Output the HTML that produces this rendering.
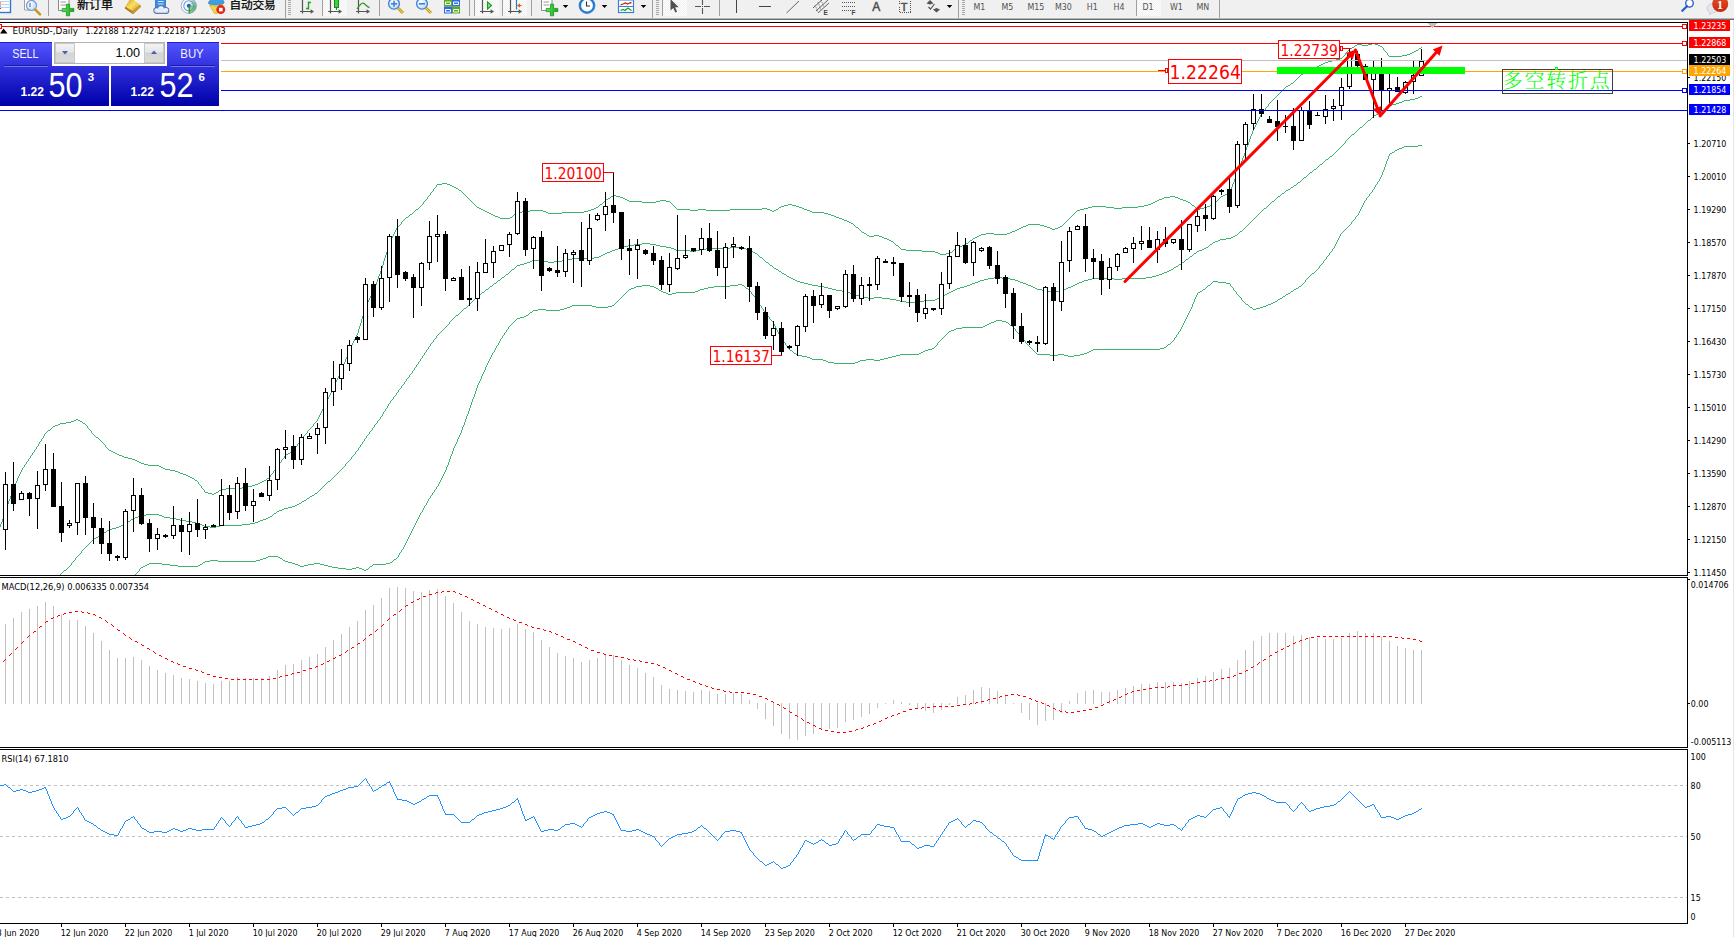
<!DOCTYPE html>
<html lang="zh"><head><meta charset="utf-8"><title>EURUSD-,Daily</title>
<style>
html,body{margin:0;padding:0;background:#fff;overflow:hidden}
body{width:1734px;height:937px;position:relative;font-family:"Liberation Sans","Noto Sans CJK SC",sans-serif}
svg{position:absolute;left:0;top:0;display:block}
text{white-space:pre}
.ax{font-family:"DejaVu Sans Condensed","DejaVu Sans","Liberation Sans",sans-serif;font-stretch:condensed;font-size:8.8px;fill:#000}
.c{shape-rendering:crispEdges}
</style></head><body>
<svg width="1734" height="937" viewBox="0 0 1734 937" font-family="Liberation Sans, sans-serif">
<rect width="1734" height="937" fill="#fff"/>

<g class="c">
<defs><clipPath id="cm"><rect x="0" y="23" width="1687" height="552"/></clipPath><clipPath id="cmacd"><rect x="0" y="578" width="1687" height="170"/></clipPath><clipPath id="crsi"><rect x="0" y="750" width="1687" height="173"/></clipPath></defs>
<g clip-path="url(#cm)">
<path d="M384.5,258v3M8.5,501v3M1245.5,150v3M17.5,478v3M347.5,354v3M13.5,487v3M1242.5,158v3M1249.5,139v3M383.5,261v4M7.5,504v3M1232.5,184v3M358.5,329v4M387.5,248v4M1240.5,164v3M1248.5,142v3M374.5,287v3M-1.5,530v3M381.5,268v3M345.5,359v3M386.5,252v3M361.5,319v4M343.5,364v3M1238.5,169v3M360.5,323v3M389.5,242v3M0.5,524v3M359.5,326v3M388.5,245v3M363.5,313v3M362.5,316v3M10.5,496v3M349.5,349v3M377.5,279v3M1234.5,179v3M1250.5,136v3M376.5,282v3M380.5,271v3M12.5,490v3M1241.5,161v3M333.5,386v3M3.5,516v3M1244.5,153v3M385.5,255v3M341.5,369v3M365.5,306v3M6.5,507v3M364.5,309v4M11.5,493v3M378.5,276v3M2.5,519v3M1237.5,172v3M1252.5,131v3M-0.5,527v3M382.5,265v3M5.5,510v3M1246.5,147v3M4.5,513v3M205,492.5h3M216,492.5h2M399,225.5h1M854,225.5h1M1026,225.5h2M1040,225.5h4M1062,225.5h1M938,253.5h2M946,253.5h4M390,240.5h1M889,240.5h2M970,240.5h2M36,447.5h1M106,447.5h1M295,447.5h1M327,399.5h1M420,206.5h1M476,206.5h1M598,206.5h1M674,206.5h1M781,206.5h3M796,206.5h3M1092,206.5h14M1138,206.5h6M1194,206.5h1M1207,206.5h3M393,234.5h1M866,234.5h1M981,234.5h5M994,234.5h13M427,197.5h1M467,197.5h1M610,197.5h1M620,197.5h3M1164,197.5h6M1175,197.5h3M1220,197.5h1M416,209.5h2M481,209.5h2M591,209.5h3M677,209.5h13M698,209.5h8M730,209.5h32M767,209.5h3M776,209.5h2M804,209.5h3M1080,209.5h4M1197,209.5h3M423,202.5h1M472,202.5h1M603,202.5h1M642,202.5h14M670,202.5h1M1153,202.5h2M1188,202.5h2M1215,202.5h1M195,480.5h2M264,480.5h2M432,191.5h1M461,191.5h1M1229,191.5h1M422,204.5h1M474,204.5h1M600,204.5h2M672,204.5h1M788,204.5h4M1148,204.5h3M1191,204.5h1M1212,204.5h2M427,198.5h1M468,198.5h1M608,198.5h2M623,198.5h2M1162,198.5h2M1178,198.5h2M1219,198.5h1M431,192.5h1M462,192.5h1M1229,192.5h1M1357,44.5h5M1368,44.5h4M1375,44.5h3M410,214.5h2M491,214.5h2M514,214.5h2M828,214.5h3M1073,214.5h1M66,422.5h5M82,422.5h1M315,422.5h1M1347,51.5h1M1385,51.5h1M1414,51.5h2M22,469.5h1M165,469.5h5M275,469.5h1M201,487.5h1M242,487.5h6M409,215.5h1M493,215.5h2M513,215.5h1M831,215.5h3M1072,215.5h1M1266,107.5h1M1345,53.5h1M1387,53.5h1M1410,53.5h2M414,211.5h1M485,211.5h2M522,211.5h8M543,211.5h3M584,211.5h4M772,211.5h2M810,211.5h2M1076,211.5h1M418,208.5h1M479,208.5h2M594,208.5h2M676,208.5h1M762,208.5h5M778,208.5h1M802,208.5h2M1084,208.5h4M1114,208.5h8M1196,208.5h1M1200,208.5h4M412,213.5h1M489,213.5h2M516,213.5h1M548,213.5h14M824,213.5h4M1074,213.5h1M415,210.5h1M483,210.5h2M530,210.5h13M588,210.5h3M690,210.5h8M706,210.5h24M770,210.5h2M774,210.5h2M807,210.5h3M1077,210.5h3M935,252.5h3M950,252.5h2M1261,114.5h1M419,207.5h1M477,207.5h2M596,207.5h2M675,207.5h1M779,207.5h2M799,207.5h3M1088,207.5h4M1106,207.5h8M1122,207.5h16M1195,207.5h1M1204,207.5h3M375,286.5h1M893,242.5h1M968,242.5h1M1343,56.5h1M1389,56.5h13M430,194.5h1M464,194.5h1M1225,194.5h2M424,201.5h1M471,201.5h1M604,201.5h1M629,201.5h13M656,201.5h4M666,201.5h4M1155,201.5h2M1186,201.5h2M1216,201.5h1M326,402.5h1M922,251.5h13M952,251.5h1M338,376.5h1M413,212.5h1M487,212.5h2M517,212.5h5M546,212.5h2M562,212.5h22M812,212.5h12M1075,212.5h1M58,424.5h2M85,424.5h1M313,424.5h1M405,218.5h1M500,218.5h10M839,218.5h3M1069,218.5h1M425,200.5h1M470,200.5h1M605,200.5h1M627,200.5h2M660,200.5h6M1157,200.5h2M1183,200.5h3M1217,200.5h1M36,448.5h1M107,448.5h1M294,448.5h1M55,425.5h3M86,425.5h1M313,425.5h1M32,454.5h1M117,454.5h2M286,454.5h2M436,185.5h1M450,185.5h2M394,233.5h1M864,233.5h2M986,233.5h8M1007,233.5h3M322,409.5h1M434,188.5h1M456,188.5h2M1231,188.5h1M1269,103.5h1M437,184.5h5M447,184.5h3M346,357.5h1M1307,71.5h2M906,250.5h16M953,250.5h1M1336,59.5h4M25,464.5h1M144,464.5h4M278,464.5h1M1260,116.5h1M393,235.5h1M867,235.5h2M874,235.5h5M979,235.5h2M27,461.5h1M137,461.5h2M281,461.5h1M1325,62.5h3M1276,96.5h1M29,458.5h1M128,458.5h4M283,458.5h1M35,449.5h1M108,449.5h1M294,449.5h1M400,224.5h1M853,224.5h1M1028,224.5h12M1063,224.5h1M50,429.5h1M89,429.5h1M309,429.5h1M1256,123.5h1M71,421.5h3M80,421.5h2M316,421.5h1M898,246.5h1M959,246.5h3M398,226.5h1M855,226.5h1M1023,226.5h3M1044,226.5h3M1060,226.5h2M406,217.5h2M498,217.5h2M510,217.5h2M836,217.5h3M1070,217.5h1M1346,52.5h1M1386,52.5h1M1412,52.5h2M900,248.5h1M956,248.5h1M435,187.5h1M454,187.5h2M1231,187.5h1M22,468.5h1M163,468.5h2M276,468.5h1M332,389.5h1M357,333.5h1M344,363.5h1M26,462.5h1M139,462.5h2M280,462.5h1M202,488.5h1M226,488.5h16M1283,89.5h1M397,227.5h1M856,227.5h2M1021,227.5h2M1047,227.5h3M1058,227.5h2M1239,168.5h1M1328,61.5h4M421,205.5h1M475,205.5h1M599,205.5h1M673,205.5h1M784,205.5h4M792,205.5h4M1144,205.5h4M1192,205.5h2M1210,205.5h2M38,445.5h1M105,445.5h1M297,445.5h1M24,465.5h1M148,465.5h11M278,465.5h1M426,199.5h1M469,199.5h1M606,199.5h2M625,199.5h2M1159,199.5h3M1180,199.5h3M1218,199.5h1M1259,118.5h1M24,466.5h1M159,466.5h2M277,466.5h1M428,196.5h1M466,196.5h1M611,196.5h2M616,196.5h4M1170,196.5h5M1221,196.5h2M20,473.5h1M180,473.5h3M272,473.5h1M34,451.5h1M111,451.5h2M291,451.5h2M52,427.5h1M87,427.5h1M311,427.5h1M-3,533.5h1M51,428.5h1M88,428.5h1M310,428.5h1M32,453.5h1M115,453.5h2M288,453.5h2M1255,125.5h1M43,437.5h1M96,437.5h2M303,437.5h1M331,391.5h1M1355,45.5h2M1362,45.5h6M1378,45.5h2M41,440.5h1M100,440.5h1M300,440.5h1M60,423.5h6M83,423.5h2M314,423.5h1M204,491.5h1M218,491.5h1M1298,77.5h1M14,485.5h1M200,485.5h1M252,485.5h3M194,479.5h1M266,479.5h1M74,420.5h2M78,420.5h2M317,420.5h1M45,433.5h1M92,433.5h1M306,433.5h1M894,243.5h1M966,243.5h2M392,237.5h1M882,237.5h2M975,237.5h2M326,401.5h1M28,460.5h1M135,460.5h2M281,460.5h1M401,223.5h1M851,223.5h2M1064,223.5h1M392,236.5h1M869,236.5h5M879,236.5h3M977,236.5h2M18,477.5h1M190,477.5h2M269,477.5h1M339,375.5h1M16,481.5h1M197,481.5h1M262,481.5h2M48,430.5h2M90,430.5h1M308,430.5h1M335,382.5h1M44,435.5h1M94,435.5h1M304,435.5h1M896,245.5h2M962,245.5h2M901,249.5h5M954,249.5h2M1265,109.5h1M1285,87.5h1M23,467.5h1M161,467.5h2M276,467.5h1M1332,60.5h4M391,238.5h1M884,238.5h3M973,238.5h2M1323,63.5h2M31,455.5h1M119,455.5h3M285,455.5h1M334,385.5h1M899,247.5h1M957,247.5h2M442,183.5h5M1233,183.5h1M28,459.5h1M132,459.5h3M282,459.5h1M395,230.5h1M860,230.5h1M1015,230.5h2M38,444.5h1M104,444.5h1M297,444.5h1M354,340.5h1M429,195.5h1M465,195.5h1M613,195.5h3M1223,195.5h2M423,203.5h1M473,203.5h1M602,203.5h1M671,203.5h1M1151,203.5h2M1190,203.5h1M1214,203.5h1M394,232.5h1M862,232.5h2M1010,232.5h2M20,472.5h1M178,472.5h2M273,472.5h1M1345,54.5h1M1387,54.5h1M1407,54.5h3M1291,83.5h2M34,450.5h1M109,450.5h2M293,450.5h1M370,297.5h1M30,457.5h1M124,457.5h4M284,457.5h1M1315,67.5h2M436,186.5h1M452,186.5h2M396,229.5h1M859,229.5h1M1017,229.5h2M1052,229.5h3M402,221.5h1M847,221.5h2M1066,221.5h1M366,304.5h1M395,231.5h1M861,231.5h1M1012,231.5h3M940,254.5h6M37,446.5h1M105,446.5h1M296,446.5h1M1352,47.5h2M1382,47.5h1M1421,47.5h1M328,398.5h1M353,342.5h1M53,426.5h2M87,426.5h1M312,426.5h1M208,493.5h4M214,493.5h2M1235,177.5h1M1317,66.5h2M46,432.5h1M91,432.5h1M307,432.5h1M403,220.5h1M844,220.5h3M1067,220.5h1M401,222.5h1M849,222.5h2M1065,222.5h1M18,476.5h1M188,476.5h2M270,476.5h1M76,419.5h2M317,419.5h1M41,439.5h1M99,439.5h1M301,439.5h1M1251,134.5h1M1,523.5h1M15,484.5h1M199,484.5h1M255,484.5h3M9,500.5h1M26,463.5h1M141,463.5h3M279,463.5h1M1297,78.5h1M327,400.5h1M339,374.5h1M1270,102.5h1M323,407.5h1M44,434.5h1M93,434.5h1M305,434.5h1M40,441.5h1M101,441.5h1M300,441.5h1M1305,72.5h2M1277,95.5h1M338,377.5h1M16,482.5h1M198,482.5h1M260,482.5h2M1274,98.5h1M408,216.5h1M495,216.5h3M512,216.5h1M834,216.5h2M1071,216.5h1M322,410.5h1M334,384.5h1M346,358.5h1M1350,48.5h2M1383,48.5h1M1419,48.5h2M318,417.5h1M204,490.5h1M219,490.5h2M203,489.5h1M221,489.5h5M354,339.5h1M1281,91.5h1M396,228.5h1M858,228.5h1M1019,228.5h2M1050,228.5h2M1055,228.5h3M370,296.5h1M1354,46.5h1M1380,46.5h2M33,452.5h1M113,452.5h2M290,452.5h1M1372,43.5h3M357,334.5h1M390,241.5h1M891,241.5h2M969,241.5h1M353,341.5h1M1349,49.5h1M1383,49.5h1M1418,49.5h1M14,486.5h1M201,486.5h1M248,486.5h4M-3,534.5h1M1255,126.5h1M369,298.5h1M1313,68.5h2M1,522.5h1M9,499.5h1M352,343.5h1M895,244.5h1M964,244.5h2M430,193.5h1M463,193.5h1M1227,193.5h2M1301,74.5h2M1321,64.5h2M433,189.5h1M458,189.5h1M1230,189.5h1M335,383.5h1M1348,50.5h1M1384,50.5h1M1416,50.5h2M1303,73.5h2M1262,112.5h1M1258,119.5h1M19,475.5h1M186,475.5h2M270,475.5h1M19,474.5h1M183,474.5h3M271,474.5h1M42,438.5h1M98,438.5h1M302,438.5h1M330,393.5h1M342,367.5h1M1257,122.5h1M1253,129.5h1M1342,57.5h1M366,305.5h1M329,395.5h1M1344,55.5h1M1388,55.5h1M1402,55.5h5M1235,178.5h1M1295,80.5h1M1251,135.5h1M433,190.5h1M459,190.5h2M1230,190.5h1M192,478.5h2M267,478.5h2M47,431.5h1M91,431.5h1M307,431.5h1M323,408.5h1M348,352.5h1M1282,90.5h1M15,483.5h1M198,483.5h1M258,483.5h2M1247,145.5h1M1233,182.5h1M1286,86.5h2M318,418.5h1M1257,121.5h1M212,494.5h2M30,456.5h1M122,456.5h2M284,456.5h1M379,274.5h1M1288,85.5h2M1254,128.5h1M1311,69.5h2M1296,79.5h1M404,219.5h1M842,219.5h2M1068,219.5h1M369,299.5h1M391,239.5h1M887,239.5h2M972,239.5h1M39,442.5h1M102,442.5h1M299,442.5h1M352,344.5h1M325,404.5h1M43,436.5h1M95,436.5h1M303,436.5h1M337,378.5h1M1243,156.5h1M321,411.5h1M1268,105.5h1M1263,111.5h1M340,373.5h1M373,290.5h1M336,380.5h1M356,335.5h1M1262,113.5h1M1278,94.5h1M372,293.5h1M1258,120.5h1M368,300.5h1M1254,127.5h1M330,394.5h1M355,338.5h1M342,368.5h1M351,345.5h1M21,470.5h1M170,470.5h5M274,470.5h1M371,295.5h1M1253,130.5h1M367,302.5h1M329,396.5h1M1236,175.5h1M325,403.5h1M350,347.5h1M1319,65.5h2M1268,104.5h1M340,372.5h1M1275,97.5h1M324,405.5h1M348,353.5h1M21,471.5h1M175,471.5h3M273,471.5h1M1272,100.5h1M1267,106.5h1M1279,93.5h1M372,292.5h1M1247,146.5h1M1340,58.5h2M1309,70.5h2M355,337.5h1M371,294.5h1M1294,81.5h1M379,275.5h1M39,443.5h1M103,443.5h1M298,443.5h1M375,285.5h1M337,379.5h1M1243,157.5h1M321,412.5h1M1260,115.5h1M373,291.5h1M1271,101.5h1M336,381.5h1M320,414.5h1M344,362.5h1M356,336.5h1M1239,167.5h1M1259,117.5h1M368,301.5h1M319,416.5h1M351,346.5h1M1293,82.5h1M367,303.5h1M1300,75.5h1M1236,176.5h1M350,348.5h1M1273,99.5h1M1265,108.5h1M1280,92.5h1M324,406.5h1M320,413.5h1M1264,110.5h1M1284,88.5h1M1256,124.5h1M319,415.5h1M332,390.5h1M328,397.5h1M1299,76.5h1M1290,84.5h1M331,392.5h1" fill="none" stroke="#3CB371" stroke-width="1"/>
<path d="M419,361.5h1M520,264.5h4M769,264.5h1M1179,264.5h2M500,279.5h1M793,279.5h2M984,279.5h4M1010,279.5h5M1088,279.5h4M1114,279.5h8M1384,109.5h1M501,278.5h1M791,278.5h2M988,278.5h6M1002,278.5h8M1092,278.5h22M1122,278.5h24M332,478.5h1M54,578.5h2M1410,99.5h5M1247,225.5h1M605,253.5h2M755,253.5h2M1194,253.5h2M1313,170.5h1M527,262.5h3M548,262.5h6M766,262.5h2M1182,262.5h2M505,275.5h1M786,275.5h1M1156,275.5h3M524,263.5h3M768,263.5h1M1181,263.5h1M1352,134.5h2M299,503.5h2M31,607.5h1M615,249.5h3M674,249.5h2M700,249.5h6M746,249.5h2M1202,249.5h2M509,272.5h1M781,272.5h1M1164,272.5h3M1399,102.5h3M1244,228.5h1M410,374.5h1M140,515.5h6M159,515.5h3M272,515.5h1M138,516.5h2M162,516.5h2M270,516.5h2M572,258.5h22M762,258.5h1M1188,258.5h1M490,286.5h2M818,286.5h6M964,286.5h3M1031,286.5h2M1071,286.5h2M486,289.5h2M832,289.5h4M955,289.5h2M1037,289.5h5M1063,289.5h3M135,517.5h3M164,517.5h6M268,517.5h2M624,246.5h4M660,246.5h6M1208,246.5h1M339,471.5h1M568,259.5h4M763,259.5h1M1186,259.5h2M618,248.5h2M671,248.5h3M706,248.5h24M743,248.5h3M1204,248.5h2M121,525.5h2M202,525.5h2M220,525.5h22M355,452.5h1M58,575.5h2M494,283.5h2M804,283.5h4M972,283.5h3M1023,283.5h3M1077,283.5h2M1226,238.5h5M1251,221.5h1M119,526.5h2M204,526.5h6M216,526.5h4M398,390.5h1M485,290.5h1M836,290.5h6M953,290.5h2M1042,290.5h6M1060,290.5h3M146,514.5h13M273,514.5h1M1288,189.5h2M514,268.5h1M774,268.5h2M1173,268.5h1M15,630.5h1M484,291.5h1M842,291.5h5M951,291.5h2M1048,291.5h4M1056,291.5h4M30,609.5h1M506,274.5h2M784,274.5h2M1159,274.5h3M86,546.5h1M476,297.5h1M864,297.5h4M874,297.5h8M939,297.5h2M1389,105.5h3M610,251.5h2M690,251.5h6M751,251.5h2M1197,251.5h2M1367,121.5h1M1258,214.5h1M81,552.5h1M516,266.5h1M772,266.5h1M1176,266.5h2M497,281.5h1M797,281.5h3M978,281.5h2M1018,281.5h2M1082,281.5h2M310,496.5h2M612,250.5h3M676,250.5h14M696,250.5h4M748,250.5h3M1199,250.5h3M279,510.5h3M434,339.5h1M512,269.5h2M776,269.5h2M1171,269.5h2M607,252.5h3M753,252.5h2M1196,252.5h1M73,561.5h1M18,625.5h1M93,539.5h1M601,255.5h2M758,255.5h1M1192,255.5h1M1374,115.5h2M1264,208.5h2M492,285.5h1M812,285.5h6M967,285.5h3M1028,285.5h3M1073,285.5h2M-1,652.5h1M599,256.5h2M759,256.5h1M1190,256.5h2M1213,242.5h2M517,265.5h3M770,265.5h2M1178,265.5h1M511,270.5h1M778,270.5h1M1169,270.5h2M14,632.5h1M425,352.5h1M318,491.5h1M530,261.5h2M544,261.5h4M554,261.5h8M765,261.5h1M1184,261.5h1M473,300.5h1M896,300.5h4M924,300.5h11M131,519.5h2M176,519.5h4M263,519.5h3M1323,162.5h1M1294,185.5h2M1272,201.5h2M126,522.5h2M192,522.5h4M255,522.5h3M489,287.5h1M824,287.5h4M960,287.5h4M1033,287.5h2M1068,287.5h3M123,524.5h2M199,524.5h3M242,524.5h8M125,523.5h1M196,523.5h3M250,523.5h5M1334,153.5h1M325,484.5h1M428,347.5h1M482,292.5h2M847,292.5h3M949,292.5h2M1052,292.5h4M532,260.5h12M562,260.5h6M764,260.5h1M1185,260.5h1M322,487.5h1M45,587.5h1M488,288.5h1M828,288.5h4M957,288.5h3M1035,288.5h2M1066,288.5h2M377,422.5h1M424,354.5h1M1280,195.5h1M372,429.5h1M102,533.5h2M1346,140.5h1M502,277.5h2M789,277.5h2M994,277.5h8M1146,277.5h6M99,535.5h2M498,280.5h2M795,280.5h2M980,280.5h4M1015,280.5h3M1084,280.5h4M36,600.5h1M415,367.5h1M1381,111.5h1M1338,149.5h1M510,271.5h1M779,271.5h2M1167,271.5h2M52,580.5h1M1310,172.5h2M467,306.5h1M508,273.5h1M782,273.5h2M1162,273.5h2M620,247.5h4M666,247.5h5M730,247.5h13M1206,247.5h2M29,610.5h1M44,589.5h1M408,377.5h1M356,451.5h1M493,284.5h1M808,284.5h4M970,284.5h2M1026,284.5h2M1075,284.5h2M1360,127.5h2M351,458.5h1M60,574.5h1M1382,110.5h2M474,299.5h1M890,299.5h6M935,299.5h2M331,479.5h1M1220,239.5h6M1318,166.5h1M20,623.5h1M309,497.5h1M471,302.5h1M906,302.5h14M1402,101.5h2M343,467.5h1M1243,229.5h1M67,568.5h1M359,447.5h1M109,529.5h3M504,276.5h1M787,276.5h2M1152,276.5h4M603,254.5h2M757,254.5h1M1193,254.5h1M1386,107.5h2M1415,98.5h3M23,618.5h1M128,521.5h2M186,521.5h6M258,521.5h2M387,406.5h1M402,385.5h1M1316,168.5h1M1250,222.5h1M307,498.5h2M277,511.5h2M1266,207.5h1M14,631.5h1M85,547.5h1M441,331.5h1M475,298.5h1M868,298.5h6M882,298.5h8M937,298.5h2M130,520.5h1M180,520.5h6M260,520.5h3M390,401.5h1M7,641.5h1M1296,184.5h1M386,408.5h1M433,340.5h1M453,318.5h1M448,324.5h1M382,415.5h1M-2,654.5h1M445,327.5h1M377,421.5h1M424,353.5h1M460,312.5h1M41,593.5h1M133,518.5h2M170,518.5h6M266,518.5h2M420,360.5h1M1277,197.5h1M314,494.5h1M38,596.5h1M472,301.5h1M900,301.5h6M920,301.5h4M330,480.5h1M34,603.5h1M594,257.5h5M760,257.5h2M1189,257.5h1M413,370.5h1M44,588.5h1M361,444.5h1M297,504.5h2M1345,142.5h1M423,355.5h1M1235,235.5h2M1278,196.5h2M337,473.5h1M1379,112.5h2M1309,173.5h1M116,527.5h3M210,527.5h6M364,439.5h1M466,307.5h1M1286,190.5h2M344,466.5h1M28,611.5h1M392,399.5h1M360,446.5h1M407,378.5h1M84,548.5h1M355,453.5h1M288,507.5h4M1365,123.5h1M1256,216.5h1M79,554.5h1M1388,106.5h1M496,282.5h1M800,282.5h4M975,282.5h3M1020,282.5h3M1079,282.5h3M1317,167.5h1M19,624.5h1M398,391.5h1M71,563.5h1M91,541.5h1M634,244.5h8M650,244.5h6M1210,244.5h2M1215,241.5h3M1263,209.5h1M66,569.5h1M642,243.5h8M1212,243.5h1M12,634.5h1M1324,161.5h1M1270,203.5h1M3,647.5h1M1293,186.5h1M18,626.5h1M382,414.5h1M429,346.5h1M1332,155.5h1M46,586.5h1M70,565.5h1M628,245.5h6M656,245.5h4M1209,245.5h1M1371,118.5h1M422,356.5h1M1301,180.5h1M385,409.5h1M452,319.5h1M1339,148.5h1M418,363.5h1M34,602.5h1M515,267.5h1M773,267.5h1M1174,267.5h2M366,437.5h1M381,416.5h1M428,348.5h1M50,582.5h1M-3,655.5h1M1351,135.5h1M1237,234.5h1M1276,198.5h1M1233,236.5h2M369,432.5h1M478,295.5h2M856,295.5h4M943,295.5h2M328,481.5h2M33,604.5h1M412,371.5h1M1349,137.5h1M360,445.5h1M1284,192.5h1M107,530.5h2M24,617.5h1M336,474.5h1M403,384.5h1M480,294.5h1M852,294.5h4M945,294.5h2M477,296.5h1M860,296.5h4M941,296.5h2M56,577.5h1M1248,224.5h1M1314,169.5h2M304,500.5h2M348,461.5h1M17,627.5h1M396,394.5h1M72,562.5h1M391,400.5h1M63,571.5h1M481,293.5h1M850,293.5h2M947,293.5h2M83,549.5h1M439,333.5h1M1325,160.5h1M8,640.5h1M1364,124.5h1M1255,217.5h1M78,555.5h1M387,407.5h1M75,558.5h1M451,320.5h1M1290,188.5h1M90,542.5h1M446,326.5h1M1262,210.5h1M390,402.5h1M315,493.5h2M418,362.5h1M433,341.5h1M1269,204.5h1M98,536.5h1M2,648.5h1M366,436.5h1M1330,156.5h2M51,581.5h1M295,505.5h2M1392,104.5h4M374,425.5h1M1300,181.5h1M456,315.5h2M38,597.5h1M417,364.5h1M365,438.5h1M1335,152.5h1M326,483.5h1M49,583.5h1M112,528.5h4M1307,175.5h1M1350,136.5h1M342,468.5h1M104,532.5h2M284,508.5h4M1342,145.5h1M1357,130.5h1M401,387.5h1M416,366.5h1M396,393.5h1M306,499.5h1M364,440.5h1M13,633.5h1M28,612.5h1M1282,193.5h2M106,531.5h1M64,570.5h2M352,456.5h1M71,564.5h1M16,628.5h1M395,395.5h1M1372,117.5h1M12,635.5h1M82,550.5h1M438,334.5h1M1418,97.5h2M1320,164.5h2M312,495.5h2M450,321.5h1M1404,100.5h6M89,543.5h1M0,651.5h1M426,350.5h1M323,486.5h1M1328,158.5h1M442,330.5h1M422,357.5h1M1344,143.5h1M370,431.5h1M1274,200.5h1M385,410.5h1M1297,183.5h1M96,537.5h2M1378,113.5h1M449,323.5h1M464,308.5h2M327,482.5h1M1285,191.5h1M1396,103.5h3M1308,174.5h1M406,379.5h1M334,476.5h1M37,598.5h1M354,454.5h1M57,576.5h1M401,386.5h1M369,433.5h1M416,365.5h1M1249,223.5h1M1358,129.5h1M349,460.5h1M276,512.5h1M412,372.5h1M346,463.5h1M341,469.5h1M1240,231.5h2M1362,126.5h1M1253,219.5h1M21,621.5h1M400,388.5h1M1291,187.5h2M274,513.5h2M88,544.5h1M1260,212.5h1M388,404.5h1M75,559.5h1M384,411.5h1M380,418.5h1M1,650.5h1M427,349.5h1M11,636.5h1M1329,157.5h1M375,424.5h1M1420,96.5h2M458,314.5h1M292,506.5h3M1231,237.5h2M39,595.5h1M1275,199.5h1M449,322.5h1M1336,151.5h1M1218,240.5h2M383,413.5h1M430,345.5h1M32,605.5h1M1348,138.5h1M42,591.5h1M374,426.5h1M319,490.5h1M421,358.5h1M1343,144.5h1M335,475.5h1M1340,147.5h1M414,368.5h1M362,442.5h1M1238,233.5h1M358,449.5h1M405,381.5h1M62,572.5h1M1385,108.5h1M333,477.5h1M353,455.5h1M1363,125.5h1M1254,218.5h1M77,556.5h1M22,620.5h1M1245,227.5h1M1354,133.5h1M345,464.5h1M393,397.5h1M340,470.5h1M1370,119.5h1M25,616.5h1M1322,163.5h1M404,383.5h1M1252,220.5h1M6,643.5h1M432,342.5h1M1268,205.5h1M16,629.5h1M380,417.5h1M1,649.5h1M87,545.5h1M443,329.5h1M321,488.5h1M1368,120.5h2M1259,213.5h1M68,567.5h1M1326,159.5h2M9,639.5h1M1298,182.5h2M455,316.5h1M4,645.5h1M94,538.5h2M282,509.5h2M383,412.5h1M430,344.5h1M1337,150.5h1M1376,114.5h2M447,325.5h1M379,419.5h1M426,351.5h1M48,584.5h1M1306,176.5h1M43,590.5h1M367,435.5h1M1356,131.5h1M347,462.5h1M470,303.5h1M1242,230.5h1M1281,194.5h1M1347,139.5h1M358,448.5h1M1304,177.5h2M461,311.5h1M27,613.5h1M406,380.5h1M22,619.5h1M101,534.5h1M468,305.5h1M1246,226.5h1M1312,171.5h1M1261,211.5h1M409,376.5h1M30,608.5h1M394,396.5h1M25,615.5h1M389,403.5h1M357,450.5h1M404,382.5h1M61,573.5h1M81,551.5h1M437,335.5h1M1319,165.5h1M6,642.5h1M76,557.5h1M397,392.5h1M444,328.5h1M9,638.5h1M388,405.5h1M80,553.5h1M436,337.5h1M5,644.5h1M431,343.5h1M1267,206.5h1M1373,116.5h1M463,309.5h1M320,489.5h1M1303,178.5h1M372,428.5h1M317,492.5h1M454,317.5h1M1341,146.5h1M36,599.5h1M1271,202.5h1M363,441.5h1M378,420.5h1M301,502.5h1M32,606.5h1M1333,154.5h1M324,485.5h1M47,585.5h1M411,373.5h1M1239,232.5h1M371,430.5h1M351,457.5h1M20,622.5h1M414,369.5h1M1355,132.5h1M35,601.5h1M399,389.5h1M302,501.5h2M469,304.5h1M362,443.5h1M409,375.5h1M338,472.5h1M26,614.5h1M1359,128.5h1M350,459.5h1M74,560.5h1M345,465.5h1M393,398.5h1M69,566.5h1M1366,122.5h1M1257,215.5h1M10,637.5h1M436,336.5h1M92,540.5h1M-2,653.5h1M440,332.5h1M41,592.5h1M373,427.5h1M420,359.5h1M435,338.5h1M4,646.5h1M368,434.5h1M53,579.5h1M462,310.5h1M376,423.5h1M1345,141.5h1M1302,179.5h1M459,313.5h1M40,594.5h1" fill="none" stroke="#3CB371" stroke-width="1"/>
<path d="M475.5,391v3M474.5,394v3M449.5,459v3M457.5,439v3M82.5,677v3M446.5,467v3M466.5,416v3M465.5,419v3M86.5,666v3M481.5,376v3M470.5,405v3M1388.5,156v3M477.5,385v3M80.5,683v3M464.5,422v3M453.5,448v3M77.5,691v3M85.5,669v3M476.5,388v3M101.5,625v3M88.5,659v3M1382.5,172v3M87.5,662v4M1192.5,304v3M91.5,649v4M78.5,688v3M452.5,451v3M469.5,408v3M1384.5,167v3M97.5,634v3M468.5,411v3M472.5,399v3M1386.5,161v3M462.5,427v3M90.5,653v3M485.5,367v3M93.5,643v3M448.5,462v3M92.5,646v3M471.5,402v3M73.5,700v3M81.5,680v3M1194.5,299v3M89.5,656v3M84.5,672v3M1385.5,164v3M461.5,430v3M450.5,456v3M528,314.5h1M766,314.5h1M1188,314.5h1M491,355.5h1M797,355.5h5M896,355.5h4M1050,355.5h8M1064,355.5h4M1074,355.5h6M147,564.5h2M162,564.5h8M200,564.5h2M295,564.5h3M308,564.5h6M320,564.5h4M373,564.5h13M203,562.5h2M288,562.5h4M390,562.5h2M495,349.5h1M789,349.5h1M928,349.5h4M1032,349.5h1M1093,349.5h67M493,352.5h1M793,352.5h1M921,352.5h2M1035,352.5h1M1087,352.5h2M149,563.5h13M202,563.5h1M292,563.5h3M314,563.5h6M386,563.5h4M624,294.5h1M668,294.5h4M752,294.5h1M1197,294.5h1M1237,294.5h1M1286,294.5h2M1211,283.5h1M1226,283.5h4M1303,283.5h1M467,415.5h1M514,321.5h1M772,321.5h1M994,321.5h2M1002,321.5h4M1184,321.5h1M623,295.5h1M753,295.5h1M1196,295.5h1M1238,295.5h1M1285,295.5h1M631,288.5h3M656,288.5h2M704,288.5h4M746,288.5h2M1205,288.5h1M1233,288.5h1M1296,288.5h2M508,327.5h1M775,327.5h1M962,327.5h21M1013,327.5h1M1181,327.5h1M414,525.5h1M143,566.5h2M178,566.5h20M300,566.5h4M328,566.5h4M370,566.5h2M1358,213.5h1M266,557.5h2M278,557.5h2M397,557.5h1M1353,220.5h1M492,354.5h1M796,354.5h1M900,354.5h19M1037,354.5h13M1058,354.5h6M1080,354.5h4M513,322.5h1M773,322.5h1M991,322.5h3M1006,322.5h2M1184,322.5h1M490,357.5h1M807,357.5h3M888,357.5h4M572,305.5h20M612,305.5h2M760,305.5h1M1248,305.5h1M1266,305.5h2M483,372.5h1M491,356.5h1M802,356.5h5M892,356.5h4M1068,356.5h6M38,745.5h2M490,358.5h1M810,358.5h2M884,358.5h4M205,561.5h5M218,561.5h38M285,561.5h3M392,561.5h1M629,289.5h2M658,289.5h1M700,289.5h4M748,289.5h1M1203,289.5h2M1233,289.5h1M1294,289.5h2M503,335.5h1M779,335.5h1M945,335.5h1M1019,335.5h1M1176,335.5h1M636,286.5h6M650,286.5h4M714,286.5h16M744,286.5h1M1207,286.5h1M1231,286.5h1M1299,286.5h2M1345,229.5h1M433,492.5h1M1389,155.5h1M489,359.5h1M812,359.5h11M866,359.5h8M880,359.5h4M103,622.5h1M538,309.5h8M560,309.5h4M763,309.5h1M1190,309.5h1M1253,309.5h3M15,774.5h1M499,341.5h1M783,341.5h1M939,341.5h1M1025,341.5h1M1172,341.5h1M618,300.5h1M757,300.5h1M1242,300.5h1M1277,300.5h1M46,739.5h1M617,301.5h1M758,301.5h1M1243,301.5h1M1275,301.5h2M627,291.5h1M661,291.5h2M695,291.5h3M750,291.5h1M1200,291.5h2M1235,291.5h1M1291,291.5h2M473,397.5h1M642,285.5h8M730,285.5h8M742,285.5h2M1208,285.5h2M1230,285.5h1M1301,285.5h1M62,719.5h1M634,287.5h2M654,287.5h2M708,287.5h6M745,287.5h1M1206,287.5h1M1232,287.5h1M1298,287.5h1M533,310.5h5M546,310.5h14M763,310.5h1M1190,310.5h1M57,725.5h1M22,767.5h1M139,569.5h1M346,569.5h6M362,569.5h2M366,569.5h2M504,334.5h1M779,334.5h1M946,334.5h1M1019,334.5h1M1177,334.5h1M1418,145.5h4M570,306.5h2M592,306.5h4M608,306.5h4M761,306.5h1M1249,306.5h1M1263,306.5h3M492,353.5h1M794,353.5h2M919,353.5h2M1036,353.5h1M1084,353.5h3M498,343.5h1M785,343.5h1M937,343.5h1M1026,343.5h1M1170,343.5h1M68,711.5h1M102,624.5h1M444,473.5h1M621,297.5h1M755,297.5h1M1195,297.5h1M1240,297.5h1M1282,297.5h1M1305,280.5h1M1372,190.5h1M625,293.5h1M666,293.5h2M672,293.5h4M751,293.5h1M1197,293.5h1M1236,293.5h1M1288,293.5h2M1320,265.5h1M628,290.5h1M659,290.5h2M698,290.5h2M749,290.5h1M1202,290.5h1M1234,290.5h1M1293,290.5h1M1335,244.5h1M145,565.5h2M170,565.5h8M198,565.5h2M298,565.5h2M304,565.5h4M324,565.5h4M372,565.5h1M620,298.5h1M755,298.5h1M1195,298.5h1M1241,298.5h1M1280,298.5h2M25,763.5h1M532,311.5h1M764,311.5h1M1189,311.5h1M210,560.5h8M256,560.5h4M283,560.5h2M393,560.5h1M1331,251.5h1M407,540.5h1M56,727.5h1M137,572.5h1M1312,273.5h2M1387,160.5h1M1212,282.5h1M1218,282.5h8M1304,282.5h1M622,296.5h1M754,296.5h1M1196,296.5h1M1239,296.5h1M1283,296.5h2M403,547.5h1M132,578.5h1M488,362.5h1M828,362.5h6M855,362.5h3M508,328.5h1M776,328.5h1M956,328.5h6M1014,328.5h1M1181,328.5h1M399,554.5h1M128,585.5h1M1371,192.5h1M515,320.5h1M771,320.5h1M996,320.5h6M1185,320.5h1M1319,267.5h1M439,483.5h1M5,779.5h2M506,330.5h1M777,330.5h1M951,330.5h3M1015,330.5h1M1180,330.5h1M512,323.5h1M773,323.5h1M989,323.5h2M1008,323.5h1M1183,323.5h1M76,695.5h1M529,313.5h1M765,313.5h1M1188,313.5h1M460,434.5h1M626,292.5h1M663,292.5h3M676,292.5h19M751,292.5h1M1198,292.5h2M1236,292.5h1M1290,292.5h1M140,568.5h1M338,568.5h8M352,568.5h4M359,568.5h3M368,568.5h1M467,414.5h1M116,601.5h1M511,324.5h1M774,324.5h1M987,324.5h2M1009,324.5h1M1183,324.5h1M402,549.5h1M487,364.5h1M495,348.5h1M788,348.5h1M932,348.5h2M1031,348.5h1M1160,348.5h4M510,325.5h1M774,325.5h1M985,325.5h2M1010,325.5h2M1182,325.5h1M415,524.5h1M500,339.5h1M782,339.5h1M941,339.5h1M1023,339.5h1M1174,339.5h1M1402,147.5h2M268,556.5h10M398,556.5h1M438,485.5h1M95,640.5h1M411,531.5h1M496,346.5h1M787,346.5h1M935,346.5h1M1029,346.5h1M1166,346.5h1M567,307.5h3M596,307.5h12M761,307.5h1M1191,307.5h1M1250,307.5h2M1260,307.5h3M1361,208.5h1M506,331.5h1M777,331.5h1M949,331.5h2M1016,331.5h1M1179,331.5h1M1346,228.5h1M71,705.5h1M1357,215.5h1M489,360.5h1M823,360.5h3M860,360.5h6M874,360.5h6M487,363.5h1M834,363.5h21M12,776.5h2M79,686.5h1M614,304.5h1M759,304.5h1M1246,304.5h2M1268,304.5h3M1381,176.5h1M94,642.5h1M410,533.5h1M106,616.5h1M502,337.5h1M780,337.5h1M943,337.5h1M1021,337.5h1M1175,337.5h1M1377,183.5h1M102,623.5h1M14,775.5h1M497,345.5h1M786,345.5h1M936,345.5h1M1028,345.5h1M1167,345.5h1M428,500.5h1M50,734.5h1M494,350.5h1M790,350.5h2M925,350.5h3M1033,350.5h1M1091,350.5h2M66,714.5h1M45,740.5h1M424,507.5h1M738,284.5h4M1210,284.5h1M1230,284.5h1M1302,284.5h1M26,762.5h1M1395,150.5h2M420,514.5h1M1380,178.5h1M1392,152.5h2M501,338.5h1M781,338.5h1M942,338.5h1M1022,338.5h1M1174,338.5h1M1324,260.5h1M504,333.5h1M778,333.5h1M947,333.5h1M1018,333.5h1M1178,333.5h1M498,344.5h1M785,344.5h1M937,344.5h1M1027,344.5h1M1168,344.5h2M98,633.5h1M76,694.5h1M423,509.5h1M1,781.5h2M460,433.5h1M121,594.5h1M1364,201.5h1M419,516.5h1M505,332.5h1M778,332.5h1M948,332.5h1M1017,332.5h1M1178,332.5h1M415,523.5h1M1323,262.5h1M484,371.5h1M516,319.5h1M770,319.5h1M1185,319.5h1M75,697.5h1M109,610.5h1M616,302.5h1M758,302.5h1M1193,302.5h1M1244,302.5h1M1273,302.5h2M139,570.5h1M364,570.5h2M260,559.5h3M282,559.5h1M394,559.5h2M141,567.5h2M332,567.5h6M356,567.5h3M369,567.5h1M459,435.5h1M105,617.5h1M120,596.5h1M564,308.5h3M762,308.5h1M1191,308.5h1M1252,308.5h1M1256,308.5h4M72,704.5h1M115,602.5h1M32,753.5h1M414,526.5h1M1358,214.5h1M1339,237.5h1M517,318.5h3M769,318.5h1M1186,318.5h1M507,329.5h1M776,329.5h1M954,329.5h2M1015,329.5h1M1180,329.5h1M615,303.5h1M759,303.5h1M1193,303.5h1M1245,303.5h1M1271,303.5h2M483,373.5h1M108,612.5h1M502,336.5h1M780,336.5h1M944,336.5h1M1020,336.5h1M1176,336.5h1M499,342.5h1M784,342.5h1M938,342.5h1M1025,342.5h1M1171,342.5h1M104,619.5h1M1404,146.5h14M1306,279.5h1M430,496.5h1M1342,232.5h1M509,326.5h1M775,326.5h1M983,326.5h2M1012,326.5h1M1182,326.5h1M10,777.5h2M31,755.5h1M51,733.5h1M426,503.5h1M1338,239.5h1M42,742.5h2M62,720.5h1M409,535.5h1M1380,177.5h1M422,510.5h1M1334,246.5h1M138,571.5h1M22,768.5h1M1376,184.5h1M54,729.5h1M418,517.5h1M19,771.5h1M1310,275.5h1M445,470.5h1M526,315.5h2M767,315.5h1M1187,315.5h1M49,735.5h1M1213,281.5h5M1305,281.5h1M1325,259.5h1M1372,191.5h1M30,757.5h1M98,632.5h1M25,764.5h1M1369,194.5h1M122,593.5h1M1328,255.5h1M263,558.5h3M280,558.5h2M396,558.5h1M109,609.5h1M1399,148.5h3M125,589.5h1M72,703.5h1M1344,230.5h1M432,493.5h1M1339,236.5h1M500,340.5h1M782,340.5h1M940,340.5h1M1024,340.5h1M1173,340.5h1M113,605.5h1M488,361.5h1M826,361.5h2M858,361.5h2M108,611.5h1M411,532.5h1M1383,170.5h1M496,347.5h1M788,347.5h1M934,347.5h1M1030,347.5h1M1164,347.5h2M1351,223.5h1M71,706.5h1M36,748.5h1M455,444.5h1M51,732.5h1M67,713.5h1M79,687.5h1M1338,238.5h1M27,761.5h1M463,425.5h1M1349,225.5h1M410,534.5h1M1330,252.5h1M406,541.5h1M479,382.5h1M70,708.5h1M55,728.5h1M1374,187.5h1M619,299.5h1M756,299.5h1M1241,299.5h1M1278,299.5h2M30,756.5h1M454,446.5h1M3,780.5h2M61,721.5h1M1318,268.5h1M1365,200.5h1M494,351.5h1M792,351.5h1M923,351.5h2M1034,351.5h1M1089,351.5h2M405,544.5h1M18,772.5h1M1309,276.5h1M1329,254.5h1M478,384.5h1M524,316.5h2M768,316.5h1M1187,316.5h1M401,551.5h1M130,582.5h1M486,365.5h1M441,479.5h1M110,608.5h1M1316,270.5h1M126,588.5h1M121,595.5h1M437,486.5h1M1364,202.5h1M520,317.5h4M769,317.5h1M1186,317.5h1M404,546.5h1M1360,209.5h1M113,604.5h1M1356,216.5h1M1351,222.5h1M440,481.5h1M459,436.5h1M105,618.5h1M36,747.5h1M436,488.5h1M1343,231.5h1M32,754.5h1M1359,211.5h1M456,443.5h1M427,501.5h1M1355,218.5h1M1350,224.5h1M1390,153.5h2M479,381.5h1M20,770.5h1M1311,274.5h1M447,465.5h1M70,707.5h1M104,620.5h1M35,749.5h1M430,497.5h1M1370,193.5h1M426,504.5h1M409,536.5h1M-1,782.5h2M422,511.5h1M1334,247.5h1M405,543.5h1M1329,253.5h1M418,518.5h1M478,383.5h1M135,574.5h1M445,471.5h1M401,550.5h1M130,581.5h1M441,478.5h1M1322,263.5h1M1369,195.5h1M126,587.5h1M1317,269.5h1M1397,149.5h2M74,698.5h1M404,545.5h1M417,520.5h1M400,552.5h1M114,603.5h1M413,527.5h1M530,312.5h2M764,312.5h1M1189,312.5h1M440,480.5h1M436,487.5h1M482,374.5h1M432,494.5h1M34,750.5h1M456,442.5h1M416,522.5h1M7,778.5h3M1355,217.5h1M412,529.5h1M1383,171.5h1M41,743.5h1M435,489.5h1M455,445.5h1M1375,185.5h1M48,736.5h1M463,426.5h1M1354,219.5h1M59,723.5h1M24,765.5h1M1378,181.5h1M406,542.5h1M1307,278.5h1M1327,256.5h1M1374,188.5h1M454,447.5h1M131,580.5h1M100,629.5h1M47,738.5h1M451,455.5h1M421,512.5h1M1333,248.5h1M134,576.5h1M417,519.5h1M486,366.5h1M99,631.5h1M1321,264.5h1M1368,196.5h1M1360,210.5h1M458,438.5h1M416,521.5h1M118,598.5h1M1341,233.5h1M1348,226.5h1M431,495.5h1M1359,212.5h1M69,709.5h1M1340,235.5h1M427,502.5h1M29,758.5h1M65,716.5h1M1336,242.5h1M40,744.5h1M60,722.5h1M1332,249.5h1M-3,783.5h2M408,538.5h1M447,466.5h1M136,573.5h1M1379,180.5h1M16,773.5h2M52,731.5h1M100,628.5h1M1308,277.5h1M47,737.5h1M63,718.5h1M28,760.5h1M129,583.5h1M451,454.5h1M23,766.5h1M1315,271.5h1M1363,203.5h1M135,575.5h1M1326,257.5h1M1373,189.5h1M99,630.5h1M1366,199.5h1M96,638.5h1M74,699.5h1M458,437.5h1M1362,206.5h1M83,676.5h1M413,528.5h1M111,607.5h1M482,375.5h1M107,614.5h1M1389,154.5h1M34,751.5h1M1340,234.5h1M103,621.5h1M429,498.5h1M65,715.5h1M412,530.5h1M425,505.5h1M1352,221.5h1M1337,241.5h1M408,537.5h1M1347,227.5h1M1379,179.5h1M37,746.5h1M1375,186.5h1M444,472.5h1M28,759.5h1M64,717.5h1M407,539.5h1M480,380.5h1M21,769.5h1M1387,159.5h1M443,475.5h1M399,553.5h1M128,584.5h1M1319,266.5h1M439,482.5h1M96,637.5h1M1366,198.5h1M1314,272.5h1M124,591.5h1M1362,205.5h1M83,675.5h1M119,597.5h1M442,477.5h1M398,555.5h1M127,586.5h1M438,484.5h1M95,639.5h1M107,613.5h1M434,491.5h1M1361,207.5h1M118,599.5h1M1337,240.5h1M1381,175.5h1M94,641.5h1M106,615.5h1M58,724.5h1M33,752.5h1M53,730.5h1M1377,182.5h1M69,710.5h1M428,499.5h1M1336,243.5h1M424,506.5h1M473,398.5h1M480,379.5h1M1332,250.5h1M420,513.5h1M57,726.5h1M443,474.5h1M133,577.5h1M68,712.5h1M44,741.5h1M1335,245.5h1M1394,151.5h1M124,590.5h1M1367,197.5h1M423,508.5h1M1363,204.5h1M419,515.5h1M1326,258.5h1M117,600.5h1M403,548.5h1M442,476.5h1M132,579.5h1M1323,261.5h1M112,606.5h1M484,370.5h1M75,696.5h1M123,592.5h1M434,490.5h1" fill="none" stroke="#3CB371" stroke-width="1"/>
<rect x="5" y="472" width="1" height="78" fill="#000"/>
<rect x="3.5" y="484.5" width="4" height="45" fill="#fff" stroke="#000" stroke-width="1"/>
<rect x="13" y="462" width="1" height="49" fill="#000"/>
<rect x="11" y="484" width="5" height="20" fill="#000"/>
<rect x="21" y="491" width="1" height="9" fill="#000"/>
<rect x="19.5" y="493.5" width="4" height="6" fill="#fff" stroke="#000" stroke-width="1"/>
<rect x="29" y="492" width="1" height="24" fill="#000"/>
<rect x="27" y="493" width="5" height="6" fill="#000"/>
<rect x="37" y="471" width="1" height="58" fill="#000"/>
<rect x="35.5" y="485.5" width="4" height="13" fill="#fff" stroke="#000" stroke-width="1"/>
<rect x="45" y="444" width="1" height="47" fill="#000"/>
<rect x="43.5" y="469.5" width="4" height="15" fill="#fff" stroke="#000" stroke-width="1"/>
<rect x="53" y="453" width="1" height="54" fill="#000"/>
<rect x="51" y="469" width="5" height="38" fill="#000"/>
<rect x="61" y="482" width="1" height="60" fill="#000"/>
<rect x="59" y="506" width="5" height="27" fill="#000"/>
<rect x="69" y="520" width="1" height="8" fill="#000"/>
<rect x="67.5" y="523.5" width="4" height="2" fill="#fff" stroke="#000" stroke-width="1"/>
<rect x="77" y="483" width="1" height="52" fill="#000"/>
<rect x="75.5" y="483.5" width="4" height="39" fill="#fff" stroke="#000" stroke-width="1"/>
<rect x="85" y="476" width="1" height="59" fill="#000"/>
<rect x="83" y="483" width="5" height="35" fill="#000"/>
<rect x="93" y="503" width="1" height="41" fill="#000"/>
<rect x="91" y="517" width="5" height="11" fill="#000"/>
<rect x="101" y="518" width="1" height="36" fill="#000"/>
<rect x="99" y="528" width="5" height="16" fill="#000"/>
<rect x="109" y="521" width="1" height="40" fill="#000"/>
<rect x="107" y="543" width="5" height="11" fill="#000"/>
<rect x="117" y="555" width="1" height="6" fill="#000"/>
<rect x="115" y="556" width="5" height="2" fill="#000"/>
<rect x="125" y="509" width="1" height="51" fill="#000"/>
<rect x="123.5" y="511.5" width="4" height="46" fill="#fff" stroke="#000" stroke-width="1"/>
<rect x="133" y="478" width="1" height="54" fill="#000"/>
<rect x="131.5" y="495.5" width="4" height="15" fill="#fff" stroke="#000" stroke-width="1"/>
<rect x="141" y="488" width="1" height="37" fill="#000"/>
<rect x="139" y="495" width="5" height="29" fill="#000"/>
<rect x="149" y="519" width="1" height="33" fill="#000"/>
<rect x="147" y="523" width="5" height="16" fill="#000"/>
<rect x="157" y="528" width="1" height="22" fill="#000"/>
<rect x="155.5" y="534.5" width="4" height="4" fill="#fff" stroke="#000" stroke-width="1"/>
<rect x="165" y="534" width="1" height="4" fill="#000"/>
<rect x="163" y="535" width="5" height="2" fill="#000"/>
<rect x="173" y="506" width="1" height="33" fill="#000"/>
<rect x="171.5" y="525.5" width="4" height="10" fill="#fff" stroke="#000" stroke-width="1"/>
<rect x="181" y="518" width="1" height="34" fill="#000"/>
<rect x="179" y="525" width="5" height="7" fill="#000"/>
<rect x="189" y="512" width="1" height="43" fill="#000"/>
<rect x="187.5" y="524.5" width="4" height="7" fill="#fff" stroke="#000" stroke-width="1"/>
<rect x="197" y="499" width="1" height="38" fill="#000"/>
<rect x="195" y="523" width="5" height="7" fill="#000"/>
<rect x="205" y="524" width="1" height="15" fill="#000"/>
<rect x="203.5" y="527.5" width="4" height="2" fill="#fff" stroke="#000" stroke-width="1"/>
<rect x="213" y="524" width="1" height="3" fill="#000"/>
<rect x="211" y="525" width="5" height="2" fill="#000"/>
<rect x="221" y="479" width="1" height="47" fill="#000"/>
<rect x="219.5" y="495.5" width="4" height="30" fill="#fff" stroke="#000" stroke-width="1"/>
<rect x="229" y="485" width="1" height="35" fill="#000"/>
<rect x="227" y="495" width="5" height="18" fill="#000"/>
<rect x="237" y="477" width="1" height="42" fill="#000"/>
<rect x="235.5" y="483.5" width="4" height="28" fill="#fff" stroke="#000" stroke-width="1"/>
<rect x="245" y="468" width="1" height="43" fill="#000"/>
<rect x="243" y="483" width="5" height="23" fill="#000"/>
<rect x="253" y="489" width="1" height="33" fill="#000"/>
<rect x="251.5" y="501.5" width="4" height="4" fill="#fff" stroke="#000" stroke-width="1"/>
<rect x="261" y="492" width="1" height="5" fill="#000"/>
<rect x="259" y="493" width="5" height="4" fill="#000"/>
<rect x="269" y="466" width="1" height="35" fill="#000"/>
<rect x="267.5" y="480.5" width="4" height="15" fill="#fff" stroke="#000" stroke-width="1"/>
<rect x="277" y="448" width="1" height="42" fill="#000"/>
<rect x="275.5" y="449.5" width="4" height="30" fill="#fff" stroke="#000" stroke-width="1"/>
<rect x="285" y="430" width="1" height="29" fill="#000"/>
<rect x="283.5" y="447.5" width="4" height="2" fill="#fff" stroke="#000" stroke-width="1"/>
<rect x="293" y="435" width="1" height="34" fill="#000"/>
<rect x="291" y="446" width="5" height="14" fill="#000"/>
<rect x="301" y="434" width="1" height="31" fill="#000"/>
<rect x="299.5" y="437.5" width="4" height="22" fill="#fff" stroke="#000" stroke-width="1"/>
<rect x="309" y="433" width="1" height="6" fill="#000"/>
<rect x="307.5" y="436.5" width="4" height="2" fill="#fff" stroke="#000" stroke-width="1"/>
<rect x="317" y="423" width="1" height="31" fill="#000"/>
<rect x="315.5" y="428.5" width="4" height="6" fill="#fff" stroke="#000" stroke-width="1"/>
<rect x="325" y="388" width="1" height="56" fill="#000"/>
<rect x="323.5" y="392.5" width="4" height="35" fill="#fff" stroke="#000" stroke-width="1"/>
<rect x="333" y="361" width="1" height="45" fill="#000"/>
<rect x="331.5" y="378.5" width="4" height="13" fill="#fff" stroke="#000" stroke-width="1"/>
<rect x="341" y="349" width="1" height="41" fill="#000"/>
<rect x="339.5" y="364.5" width="4" height="14" fill="#fff" stroke="#000" stroke-width="1"/>
<rect x="349" y="340" width="1" height="31" fill="#000"/>
<rect x="347.5" y="345.5" width="4" height="18" fill="#fff" stroke="#000" stroke-width="1"/>
<rect x="357" y="336" width="1" height="7" fill="#000"/>
<rect x="355" y="337" width="5" height="3" fill="#000"/>
<rect x="365" y="278" width="1" height="62" fill="#000"/>
<rect x="363.5" y="284.5" width="4" height="55" fill="#fff" stroke="#000" stroke-width="1"/>
<rect x="373" y="281" width="1" height="36" fill="#000"/>
<rect x="371" y="284" width="5" height="24" fill="#000"/>
<rect x="381" y="266" width="1" height="44" fill="#000"/>
<rect x="379.5" y="278.5" width="4" height="29" fill="#fff" stroke="#000" stroke-width="1"/>
<rect x="389" y="234" width="1" height="68" fill="#000"/>
<rect x="387.5" y="236.5" width="4" height="41" fill="#fff" stroke="#000" stroke-width="1"/>
<rect x="397" y="219" width="1" height="69" fill="#000"/>
<rect x="395" y="236" width="5" height="39" fill="#000"/>
<rect x="405" y="271" width="1" height="10" fill="#000"/>
<rect x="403" y="272" width="5" height="7" fill="#000"/>
<rect x="413" y="274" width="1" height="44" fill="#000"/>
<rect x="411" y="277" width="5" height="11" fill="#000"/>
<rect x="421" y="262" width="1" height="44" fill="#000"/>
<rect x="419.5" y="263.5" width="4" height="24" fill="#fff" stroke="#000" stroke-width="1"/>
<rect x="429" y="221" width="1" height="49" fill="#000"/>
<rect x="427.5" y="236.5" width="4" height="26" fill="#fff" stroke="#000" stroke-width="1"/>
<rect x="437" y="215" width="1" height="47" fill="#000"/>
<rect x="435.5" y="234.5" width="4" height="2" fill="#fff" stroke="#000" stroke-width="1"/>
<rect x="445" y="231" width="1" height="60" fill="#000"/>
<rect x="443" y="234" width="5" height="45" fill="#000"/>
<rect x="453" y="277" width="1" height="4" fill="#000"/>
<rect x="451.5" y="278.5" width="4" height="2" fill="#fff" stroke="#000" stroke-width="1"/>
<rect x="461" y="269" width="1" height="31" fill="#000"/>
<rect x="459" y="277" width="5" height="23" fill="#000"/>
<rect x="469" y="266" width="1" height="40" fill="#000"/>
<rect x="467" y="298" width="5" height="2" fill="#000"/>
<rect x="477" y="262" width="1" height="49" fill="#000"/>
<rect x="475.5" y="272.5" width="4" height="26" fill="#fff" stroke="#000" stroke-width="1"/>
<rect x="485" y="239" width="1" height="34" fill="#000"/>
<rect x="483.5" y="263.5" width="4" height="9" fill="#fff" stroke="#000" stroke-width="1"/>
<rect x="493" y="246" width="1" height="32" fill="#000"/>
<rect x="491.5" y="251.5" width="4" height="11" fill="#fff" stroke="#000" stroke-width="1"/>
<rect x="501" y="245" width="1" height="6" fill="#000"/>
<rect x="499.5" y="245.5" width="4" height="5" fill="#fff" stroke="#000" stroke-width="1"/>
<rect x="509" y="232" width="1" height="25" fill="#000"/>
<rect x="507.5" y="234.5" width="4" height="10" fill="#fff" stroke="#000" stroke-width="1"/>
<rect x="517" y="192" width="1" height="43" fill="#000"/>
<rect x="515.5" y="201.5" width="4" height="32" fill="#fff" stroke="#000" stroke-width="1"/>
<rect x="525" y="198" width="1" height="58" fill="#000"/>
<rect x="523" y="201" width="5" height="49" fill="#000"/>
<rect x="533" y="236" width="1" height="33" fill="#000"/>
<rect x="531.5" y="237.5" width="4" height="11" fill="#fff" stroke="#000" stroke-width="1"/>
<rect x="541" y="231" width="1" height="60" fill="#000"/>
<rect x="539" y="237" width="5" height="39" fill="#000"/>
<rect x="549" y="267" width="1" height="5" fill="#000"/>
<rect x="547" y="268" width="5" height="3" fill="#000"/>
<rect x="557" y="246" width="1" height="31" fill="#000"/>
<rect x="555" y="270" width="5" height="3" fill="#000"/>
<rect x="565" y="249" width="1" height="28" fill="#000"/>
<rect x="563.5" y="253.5" width="4" height="18" fill="#fff" stroke="#000" stroke-width="1"/>
<rect x="573" y="250" width="1" height="33" fill="#000"/>
<rect x="571.5" y="252.5" width="4" height="2" fill="#fff" stroke="#000" stroke-width="1"/>
<rect x="581" y="222" width="1" height="65" fill="#000"/>
<rect x="579" y="250" width="5" height="11" fill="#000"/>
<rect x="589" y="214" width="1" height="51" fill="#000"/>
<rect x="587.5" y="228.5" width="4" height="32" fill="#fff" stroke="#000" stroke-width="1"/>
<rect x="597" y="213" width="1" height="8" fill="#000"/>
<rect x="595.5" y="215.5" width="4" height="4" fill="#fff" stroke="#000" stroke-width="1"/>
<rect x="605" y="192" width="1" height="39" fill="#000"/>
<rect x="603.5" y="206.5" width="4" height="8" fill="#fff" stroke="#000" stroke-width="1"/>
<rect x="613" y="172" width="1" height="51" fill="#000"/>
<rect x="611" y="205" width="5" height="8" fill="#000"/>
<rect x="621" y="212" width="1" height="48" fill="#000"/>
<rect x="619" y="212" width="5" height="37" fill="#000"/>
<rect x="629" y="239" width="1" height="36" fill="#000"/>
<rect x="627" y="248" width="5" height="3" fill="#000"/>
<rect x="637" y="239" width="1" height="40" fill="#000"/>
<rect x="635.5" y="245.5" width="4" height="4" fill="#fff" stroke="#000" stroke-width="1"/>
<rect x="645" y="249" width="1" height="6" fill="#000"/>
<rect x="643" y="250" width="5" height="4" fill="#000"/>
<rect x="653" y="246" width="1" height="19" fill="#000"/>
<rect x="651" y="253" width="5" height="8" fill="#000"/>
<rect x="661" y="256" width="1" height="34" fill="#000"/>
<rect x="659" y="260" width="5" height="25" fill="#000"/>
<rect x="669" y="253" width="1" height="39" fill="#000"/>
<rect x="667.5" y="267.5" width="4" height="17" fill="#fff" stroke="#000" stroke-width="1"/>
<rect x="677" y="215" width="1" height="55" fill="#000"/>
<rect x="675.5" y="258.5" width="4" height="10" fill="#fff" stroke="#000" stroke-width="1"/>
<rect x="685" y="235" width="1" height="24" fill="#000"/>
<rect x="683.5" y="255.5" width="4" height="2" fill="#fff" stroke="#000" stroke-width="1"/>
<rect x="693" y="248" width="1" height="4" fill="#000"/>
<rect x="691" y="248" width="5" height="3" fill="#000"/>
<rect x="701" y="228" width="1" height="27" fill="#000"/>
<rect x="699.5" y="238.5" width="4" height="11" fill="#fff" stroke="#000" stroke-width="1"/>
<rect x="709" y="223" width="1" height="29" fill="#000"/>
<rect x="707" y="238" width="5" height="13" fill="#000"/>
<rect x="717" y="231" width="1" height="45" fill="#000"/>
<rect x="715" y="250" width="5" height="18" fill="#000"/>
<rect x="725" y="243" width="1" height="56" fill="#000"/>
<rect x="723.5" y="247.5" width="4" height="20" fill="#fff" stroke="#000" stroke-width="1"/>
<rect x="733" y="237" width="1" height="21" fill="#000"/>
<rect x="731.5" y="244.5" width="4" height="2" fill="#fff" stroke="#000" stroke-width="1"/>
<rect x="741" y="246" width="1" height="4" fill="#000"/>
<rect x="739" y="247" width="5" height="2" fill="#000"/>
<rect x="749" y="236" width="1" height="66" fill="#000"/>
<rect x="747" y="248" width="5" height="39" fill="#000"/>
<rect x="757" y="282" width="1" height="38" fill="#000"/>
<rect x="755" y="286" width="5" height="27" fill="#000"/>
<rect x="765" y="307" width="1" height="32" fill="#000"/>
<rect x="763" y="312" width="5" height="24" fill="#000"/>
<rect x="773" y="321" width="1" height="29" fill="#000"/>
<rect x="771.5" y="328.5" width="4" height="7" fill="#fff" stroke="#000" stroke-width="1"/>
<rect x="781" y="322" width="1" height="34" fill="#000"/>
<rect x="779" y="328" width="5" height="24" fill="#000"/>
<rect x="789" y="345" width="1" height="4" fill="#000"/>
<rect x="787" y="346" width="5" height="2" fill="#000"/>
<rect x="797" y="325" width="1" height="31" fill="#000"/>
<rect x="795.5" y="326.5" width="4" height="19" fill="#fff" stroke="#000" stroke-width="1"/>
<rect x="805" y="294" width="1" height="38" fill="#000"/>
<rect x="803.5" y="296.5" width="4" height="30" fill="#fff" stroke="#000" stroke-width="1"/>
<rect x="813" y="290" width="1" height="33" fill="#000"/>
<rect x="811" y="296" width="5" height="10" fill="#000"/>
<rect x="821" y="283" width="1" height="25" fill="#000"/>
<rect x="819.5" y="295.5" width="4" height="9" fill="#fff" stroke="#000" stroke-width="1"/>
<rect x="829" y="295" width="1" height="23" fill="#000"/>
<rect x="827" y="295" width="5" height="16" fill="#000"/>
<rect x="837" y="306" width="1" height="4" fill="#000"/>
<rect x="835.5" y="306.5" width="4" height="2" fill="#fff" stroke="#000" stroke-width="1"/>
<rect x="845" y="270" width="1" height="38" fill="#000"/>
<rect x="843.5" y="274.5" width="4" height="32" fill="#fff" stroke="#000" stroke-width="1"/>
<rect x="853" y="265" width="1" height="37" fill="#000"/>
<rect x="851" y="274" width="5" height="25" fill="#000"/>
<rect x="861" y="277" width="1" height="28" fill="#000"/>
<rect x="859.5" y="285.5" width="4" height="13" fill="#fff" stroke="#000" stroke-width="1"/>
<rect x="869" y="277" width="1" height="24" fill="#000"/>
<rect x="867" y="284" width="5" height="2" fill="#000"/>
<rect x="877" y="256" width="1" height="34" fill="#000"/>
<rect x="875.5" y="258.5" width="4" height="26" fill="#fff" stroke="#000" stroke-width="1"/>
<rect x="885" y="259" width="1" height="4" fill="#000"/>
<rect x="883" y="261" width="5" height="2" fill="#000"/>
<rect x="893" y="257" width="1" height="19" fill="#000"/>
<rect x="891" y="262" width="5" height="2" fill="#000"/>
<rect x="901" y="263" width="1" height="39" fill="#000"/>
<rect x="899" y="263" width="5" height="34" fill="#000"/>
<rect x="909" y="282" width="1" height="25" fill="#000"/>
<rect x="907" y="295" width="5" height="2" fill="#000"/>
<rect x="917" y="289" width="1" height="33" fill="#000"/>
<rect x="915" y="295" width="5" height="18" fill="#000"/>
<rect x="925" y="294" width="1" height="25" fill="#000"/>
<rect x="923.5" y="308.5" width="4" height="5" fill="#fff" stroke="#000" stroke-width="1"/>
<rect x="933" y="308" width="1" height="3" fill="#000"/>
<rect x="931" y="308" width="5" height="2" fill="#000"/>
<rect x="941" y="272" width="1" height="43" fill="#000"/>
<rect x="939.5" y="284.5" width="4" height="24" fill="#fff" stroke="#000" stroke-width="1"/>
<rect x="949" y="250" width="1" height="39" fill="#000"/>
<rect x="947.5" y="256.5" width="4" height="27" fill="#fff" stroke="#000" stroke-width="1"/>
<rect x="957" y="232" width="1" height="25" fill="#000"/>
<rect x="955.5" y="245.5" width="4" height="11" fill="#fff" stroke="#000" stroke-width="1"/>
<rect x="965" y="238" width="1" height="26" fill="#000"/>
<rect x="963" y="245" width="5" height="18" fill="#000"/>
<rect x="973" y="241" width="1" height="35" fill="#000"/>
<rect x="971.5" y="242.5" width="4" height="20" fill="#fff" stroke="#000" stroke-width="1"/>
<rect x="981" y="247" width="1" height="5" fill="#000"/>
<rect x="979.5" y="248.5" width="4" height="2" fill="#fff" stroke="#000" stroke-width="1"/>
<rect x="989" y="246" width="1" height="23" fill="#000"/>
<rect x="987" y="247" width="5" height="19" fill="#000"/>
<rect x="997" y="251" width="1" height="33" fill="#000"/>
<rect x="995" y="265" width="5" height="14" fill="#000"/>
<rect x="1005" y="275" width="1" height="33" fill="#000"/>
<rect x="1003" y="277" width="5" height="17" fill="#000"/>
<rect x="1013" y="288" width="1" height="51" fill="#000"/>
<rect x="1011" y="293" width="5" height="33" fill="#000"/>
<rect x="1021" y="313" width="1" height="31" fill="#000"/>
<rect x="1019" y="326" width="5" height="16" fill="#000"/>
<rect x="1029" y="340" width="1" height="5" fill="#000"/>
<rect x="1027" y="341" width="5" height="2" fill="#000"/>
<rect x="1037" y="336" width="1" height="16" fill="#000"/>
<rect x="1035" y="342" width="5" height="2" fill="#000"/>
<rect x="1045" y="286" width="1" height="59" fill="#000"/>
<rect x="1043.5" y="287.5" width="4" height="56" fill="#fff" stroke="#000" stroke-width="1"/>
<rect x="1053" y="283" width="1" height="78" fill="#000"/>
<rect x="1051" y="287" width="5" height="14" fill="#000"/>
<rect x="1061" y="241" width="1" height="70" fill="#000"/>
<rect x="1059.5" y="262.5" width="4" height="39" fill="#fff" stroke="#000" stroke-width="1"/>
<rect x="1069" y="227" width="1" height="45" fill="#000"/>
<rect x="1067.5" y="231.5" width="4" height="29" fill="#fff" stroke="#000" stroke-width="1"/>
<rect x="1077" y="225" width="1" height="5" fill="#000"/>
<rect x="1075.5" y="226.5" width="4" height="3" fill="#fff" stroke="#000" stroke-width="1"/>
<rect x="1085" y="214" width="1" height="58" fill="#000"/>
<rect x="1083" y="226" width="5" height="33" fill="#000"/>
<rect x="1093" y="249" width="1" height="30" fill="#000"/>
<rect x="1091" y="258" width="5" height="4" fill="#000"/>
<rect x="1101" y="254" width="1" height="41" fill="#000"/>
<rect x="1099" y="261" width="5" height="19" fill="#000"/>
<rect x="1109" y="258" width="1" height="31" fill="#000"/>
<rect x="1107.5" y="267.5" width="4" height="12" fill="#fff" stroke="#000" stroke-width="1"/>
<rect x="1117" y="253" width="1" height="18" fill="#000"/>
<rect x="1115.5" y="254.5" width="4" height="12" fill="#fff" stroke="#000" stroke-width="1"/>
<rect x="1125" y="247" width="1" height="6" fill="#000"/>
<rect x="1123.5" y="248.5" width="4" height="4" fill="#fff" stroke="#000" stroke-width="1"/>
<rect x="1133" y="237" width="1" height="26" fill="#000"/>
<rect x="1131.5" y="243.5" width="4" height="5" fill="#fff" stroke="#000" stroke-width="1"/>
<rect x="1141" y="226" width="1" height="24" fill="#000"/>
<rect x="1139.5" y="241.5" width="4" height="2" fill="#fff" stroke="#000" stroke-width="1"/>
<rect x="1149" y="227" width="1" height="21" fill="#000"/>
<rect x="1147" y="240" width="5" height="8" fill="#000"/>
<rect x="1157" y="231" width="1" height="32" fill="#000"/>
<rect x="1155.5" y="239.5" width="4" height="10" fill="#fff" stroke="#000" stroke-width="1"/>
<rect x="1165" y="227" width="1" height="20" fill="#000"/>
<rect x="1163" y="239" width="5" height="5" fill="#000"/>
<rect x="1173" y="239" width="1" height="5" fill="#000"/>
<rect x="1171.5" y="239.5" width="4" height="3" fill="#fff" stroke="#000" stroke-width="1"/>
<rect x="1181" y="220" width="1" height="50" fill="#000"/>
<rect x="1179" y="239" width="5" height="11" fill="#000"/>
<rect x="1189" y="224" width="1" height="28" fill="#000"/>
<rect x="1187.5" y="224.5" width="4" height="25" fill="#fff" stroke="#000" stroke-width="1"/>
<rect x="1197" y="210" width="1" height="22" fill="#000"/>
<rect x="1195.5" y="216.5" width="4" height="9" fill="#fff" stroke="#000" stroke-width="1"/>
<rect x="1205" y="204" width="1" height="27" fill="#000"/>
<rect x="1203" y="215" width="5" height="4" fill="#000"/>
<rect x="1213" y="195" width="1" height="25" fill="#000"/>
<rect x="1211.5" y="196.5" width="4" height="22" fill="#fff" stroke="#000" stroke-width="1"/>
<rect x="1221" y="189" width="1" height="6" fill="#000"/>
<rect x="1219" y="190" width="5" height="2" fill="#000"/>
<rect x="1229" y="178" width="1" height="35" fill="#000"/>
<rect x="1227" y="189" width="5" height="18" fill="#000"/>
<rect x="1237" y="141" width="1" height="67" fill="#000"/>
<rect x="1235.5" y="144.5" width="4" height="61" fill="#fff" stroke="#000" stroke-width="1"/>
<rect x="1245" y="122" width="1" height="37" fill="#000"/>
<rect x="1243.5" y="124.5" width="4" height="20" fill="#fff" stroke="#000" stroke-width="1"/>
<rect x="1253" y="94" width="1" height="36" fill="#000"/>
<rect x="1251.5" y="109.5" width="4" height="14" fill="#fff" stroke="#000" stroke-width="1"/>
<rect x="1261" y="94" width="1" height="23" fill="#000"/>
<rect x="1259" y="109" width="5" height="5" fill="#000"/>
<rect x="1269" y="116" width="1" height="7" fill="#000"/>
<rect x="1267" y="119" width="5" height="4" fill="#000"/>
<rect x="1277" y="100" width="1" height="41" fill="#000"/>
<rect x="1275" y="121" width="5" height="6" fill="#000"/>
<rect x="1285" y="115" width="1" height="18" fill="#000"/>
<rect x="1283" y="126" width="5" height="1" fill="#000"/>
<rect x="1293" y="108" width="1" height="42" fill="#000"/>
<rect x="1291" y="126" width="5" height="15" fill="#000"/>
<rect x="1301" y="107" width="1" height="34" fill="#000"/>
<rect x="1299.5" y="110.5" width="4" height="30" fill="#fff" stroke="#000" stroke-width="1"/>
<rect x="1309" y="101" width="1" height="28" fill="#000"/>
<rect x="1307" y="110" width="5" height="15" fill="#000"/>
<rect x="1317" y="112" width="1" height="4" fill="#000"/>
<rect x="1315" y="115" width="5" height="1" fill="#000"/>
<rect x="1325" y="95" width="1" height="29" fill="#000"/>
<rect x="1323.5" y="109.5" width="4" height="7" fill="#fff" stroke="#000" stroke-width="1"/>
<rect x="1333" y="99" width="1" height="22" fill="#000"/>
<rect x="1331.5" y="106.5" width="4" height="2" fill="#fff" stroke="#000" stroke-width="1"/>
<rect x="1341" y="78" width="1" height="42" fill="#000"/>
<rect x="1339.5" y="87.5" width="4" height="18" fill="#fff" stroke="#000" stroke-width="1"/>
<rect x="1349" y="49" width="1" height="40" fill="#000"/>
<rect x="1347.5" y="54.5" width="4" height="32" fill="#fff" stroke="#000" stroke-width="1"/>
<rect x="1357" y="51" width="1" height="16" fill="#000"/>
<rect x="1355" y="54" width="5" height="12" fill="#000"/>
<rect x="1365" y="64" width="1" height="16" fill="#000"/>
<rect x="1363" y="66" width="5" height="14" fill="#000"/>
<rect x="1373" y="60" width="1" height="58" fill="#000"/>
<rect x="1371.5" y="67.5" width="4" height="12" fill="#fff" stroke="#000" stroke-width="1"/>
<rect x="1381" y="58" width="1" height="53" fill="#000"/>
<rect x="1379" y="67" width="5" height="24" fill="#000"/>
<rect x="1389" y="74" width="1" height="29" fill="#000"/>
<rect x="1387.5" y="88.5" width="4" height="2" fill="#fff" stroke="#000" stroke-width="1"/>
<rect x="1397" y="77" width="1" height="15" fill="#000"/>
<rect x="1395" y="87" width="5" height="5" fill="#000"/>
<rect x="1405" y="81" width="1" height="13" fill="#000"/>
<rect x="1403.5" y="82.5" width="4" height="10" fill="#fff" stroke="#000" stroke-width="1"/>
<rect x="1413" y="61" width="1" height="33" fill="#000"/>
<rect x="1411.5" y="75.5" width="4" height="6" fill="#fff" stroke="#000" stroke-width="1"/>
<rect x="1421" y="49" width="1" height="27" fill="#000"/>
<rect x="1419.5" y="61.5" width="4" height="14" fill="#fff" stroke="#000" stroke-width="1"/>
</g>
<rect x="0" y="26" width="1687" height="1" fill="#ff0000"/>
<rect x="0" y="43" width="1687" height="1" fill="#ff0000"/>
<rect x="0" y="60" width="1687" height="1" fill="#c0c0c0"/>
<rect x="0" y="71" width="1687" height="1" fill="#ffa500"/>
<rect x="0" y="90" width="1687" height="1" fill="#0000ff"/>
<rect x="0" y="110" width="1687" height="1" fill="#0000ff"/>
<rect x="1682.5" y="24.5" width="4" height="4" fill="#fff" stroke="#ff0000"/>
<rect x="1682.5" y="41.5" width="4" height="4" fill="#fff" stroke="#ff0000"/>
<rect x="1682.5" y="69.5" width="4" height="4" fill="#fff" stroke="#ffa500"/>
<rect x="1682.5" y="88.5" width="4" height="4" fill="#fff" stroke="#0000ff"/>
<rect x="-2.5" y="24.5" width="4" height="4" fill="#fff" stroke="#ff0000"/>
</g>
<g class="c"><rect x="1432" y="27" width="1" height="1" fill="#c0c0c0"/><rect x="1431" y="26" width="3" height="1" fill="#c0c0c0"/><rect x="1430" y="25" width="5" height="1" fill="#c0c0c0"/><rect x="1429" y="24" width="7" height="1" fill="#c0c0c0"/><rect x="1428" y="23" width="9" height="1" fill="#c0c0c0"/></g>
<rect x="1277" y="67" width="188" height="7" fill="#00ff00" class="c"/>
<line x1="1125" y1="281.5" x2="1350.7" y2="54.8" stroke="#ff0000" stroke-width="3.0" stroke-linecap="round"/><polygon points="1356.0,49.5 1352.6,59.5 1346.0,53.0" fill="#ff0000"/>
<line x1="1355.5" y1="50" x2="1377.9" y2="109.5" stroke="#ff0000" stroke-width="3.0" stroke-linecap="round"/><polygon points="1380.5,116.5 1372.9,109.2 1381.5,106.0" fill="#ff0000"/>
<line x1="1380" y1="116" x2="1437.5" y2="51.1" stroke="#ff0000" stroke-width="3.0" stroke-linecap="round"/><polygon points="1442.5,45.5 1439.6,55.7 1432.8,49.6" fill="#ff0000"/>
<rect x="542.5" y="163.5" width="61" height="18" fill="#fff" stroke="#ff0000" class="c"/><text x="544.5" y="178.5" font-size="15.4" fill="#ff0000" font-family="DejaVu Sans Condensed, DejaVu Sans, Liberation Sans, sans-serif" font-stretch="condensed">1.20100</text>
<rect x="604" y="172" width="10" height="1" fill="#ff0000"/>
<rect x="710.5" y="346.5" width="61" height="18" fill="#fff" stroke="#ff0000" class="c"/><text x="712.5" y="361.5" font-size="15.4" fill="#ff0000" font-family="DejaVu Sans Condensed, DejaVu Sans, Liberation Sans, sans-serif" font-stretch="condensed">1.16137</text>
<rect x="772" y="355" width="10" height="1" fill="#ff0000"/>
<rect x="1278.5" y="40.5" width="61" height="18" fill="#fff" stroke="#ff0000" class="c"/><text x="1280.5" y="55.5" font-size="15.4" fill="#ff0000" font-family="DejaVu Sans Condensed, DejaVu Sans, Liberation Sans, sans-serif" font-stretch="condensed">1.22739</text>
<rect x="1340.5" y="46.5" width="2" height="4" fill="#fff" stroke="#ff0000" class="c"/>
<rect x="1343" y="48" width="8" height="1" fill="#ff0000"/>
<rect x="1168.5" y="59.5" width="73" height="24" fill="#fff" stroke="#ff0000" class="c"/><text x="1169.6" y="79.3" font-size="19.2" fill="#ff0000" font-family="DejaVu Sans Condensed, DejaVu Sans, Liberation Sans, sans-serif" font-stretch="condensed">1.22264</text>
<rect x="1158" y="70" width="7" height="1" fill="#ff0000"/>
<rect x="1165.5" y="68.5" width="2" height="4" fill="#fff" stroke="#ff0000" class="c"/>
<rect x="1502.5" y="69.5" width="110" height="24" fill="none" stroke="#404040" class="c"/>
<rect x="1555.5" y="67.5" width="2" height="2" fill="none" stroke="#00ff00" class="c"/>
<text x="1502.6" y="87.8" font-size="20" letter-spacing="1.8" fill="#00ff00" font-family="Liberation Serif, Noto Serif CJK SC, serif" font-weight="300">多空转折点</text>
<g class="c" clip-path="url(#cmacd)">
<rect x="5" y="624" width="1" height="80" fill="#c0c0c0"/>
<rect x="13" y="618" width="1" height="86" fill="#c0c0c0"/>
<rect x="21" y="612" width="1" height="92" fill="#c0c0c0"/>
<rect x="29" y="609" width="1" height="95" fill="#c0c0c0"/>
<rect x="37" y="606" width="1" height="98" fill="#c0c0c0"/>
<rect x="45" y="602" width="1" height="102" fill="#c0c0c0"/>
<rect x="53" y="606" width="1" height="98" fill="#c0c0c0"/>
<rect x="61" y="614" width="1" height="90" fill="#c0c0c0"/>
<rect x="69" y="620" width="1" height="84" fill="#c0c0c0"/>
<rect x="77" y="620" width="1" height="84" fill="#c0c0c0"/>
<rect x="85" y="626" width="1" height="78" fill="#c0c0c0"/>
<rect x="93" y="633" width="1" height="71" fill="#c0c0c0"/>
<rect x="101" y="641" width="1" height="63" fill="#c0c0c0"/>
<rect x="109" y="650" width="1" height="54" fill="#c0c0c0"/>
<rect x="117" y="658" width="1" height="46" fill="#c0c0c0"/>
<rect x="125" y="658" width="1" height="46" fill="#c0c0c0"/>
<rect x="133" y="657" width="1" height="47" fill="#c0c0c0"/>
<rect x="141" y="660" width="1" height="44" fill="#c0c0c0"/>
<rect x="149" y="666" width="1" height="38" fill="#c0c0c0"/>
<rect x="157" y="670" width="1" height="34" fill="#c0c0c0"/>
<rect x="165" y="673" width="1" height="31" fill="#c0c0c0"/>
<rect x="173" y="675" width="1" height="29" fill="#c0c0c0"/>
<rect x="181" y="678" width="1" height="26" fill="#c0c0c0"/>
<rect x="189" y="679" width="1" height="25" fill="#c0c0c0"/>
<rect x="197" y="681" width="1" height="23" fill="#c0c0c0"/>
<rect x="205" y="683" width="1" height="21" fill="#c0c0c0"/>
<rect x="213" y="684" width="1" height="20" fill="#c0c0c0"/>
<rect x="221" y="681" width="1" height="23" fill="#c0c0c0"/>
<rect x="229" y="681" width="1" height="23" fill="#c0c0c0"/>
<rect x="237" y="677" width="1" height="27" fill="#c0c0c0"/>
<rect x="245" y="678" width="1" height="26" fill="#c0c0c0"/>
<rect x="253" y="678" width="1" height="26" fill="#c0c0c0"/>
<rect x="261" y="678" width="1" height="26" fill="#c0c0c0"/>
<rect x="269" y="676" width="1" height="28" fill="#c0c0c0"/>
<rect x="277" y="670" width="1" height="34" fill="#c0c0c0"/>
<rect x="285" y="665" width="1" height="39" fill="#c0c0c0"/>
<rect x="293" y="664" width="1" height="40" fill="#c0c0c0"/>
<rect x="301" y="660" width="1" height="44" fill="#c0c0c0"/>
<rect x="309" y="657" width="1" height="47" fill="#c0c0c0"/>
<rect x="317" y="654" width="1" height="50" fill="#c0c0c0"/>
<rect x="325" y="647" width="1" height="57" fill="#c0c0c0"/>
<rect x="333" y="640" width="1" height="64" fill="#c0c0c0"/>
<rect x="341" y="634" width="1" height="70" fill="#c0c0c0"/>
<rect x="349" y="627" width="1" height="77" fill="#c0c0c0"/>
<rect x="357" y="621" width="1" height="83" fill="#c0c0c0"/>
<rect x="365" y="610" width="1" height="94" fill="#c0c0c0"/>
<rect x="373" y="605" width="1" height="99" fill="#c0c0c0"/>
<rect x="381" y="598" width="1" height="106" fill="#c0c0c0"/>
<rect x="389" y="588" width="1" height="116" fill="#c0c0c0"/>
<rect x="397" y="587" width="1" height="117" fill="#c0c0c0"/>
<rect x="405" y="588" width="1" height="116" fill="#c0c0c0"/>
<rect x="413" y="591" width="1" height="113" fill="#c0c0c0"/>
<rect x="421" y="592" width="1" height="112" fill="#c0c0c0"/>
<rect x="429" y="590" width="1" height="114" fill="#c0c0c0"/>
<rect x="437" y="589" width="1" height="115" fill="#c0c0c0"/>
<rect x="445" y="596" width="1" height="108" fill="#c0c0c0"/>
<rect x="453" y="603" width="1" height="101" fill="#c0c0c0"/>
<rect x="461" y="612" width="1" height="92" fill="#c0c0c0"/>
<rect x="469" y="621" width="1" height="83" fill="#c0c0c0"/>
<rect x="477" y="624" width="1" height="80" fill="#c0c0c0"/>
<rect x="485" y="627" width="1" height="77" fill="#c0c0c0"/>
<rect x="493" y="628" width="1" height="76" fill="#c0c0c0"/>
<rect x="501" y="629" width="1" height="75" fill="#c0c0c0"/>
<rect x="509" y="628" width="1" height="76" fill="#c0c0c0"/>
<rect x="517" y="624" width="1" height="80" fill="#c0c0c0"/>
<rect x="525" y="629" width="1" height="75" fill="#c0c0c0"/>
<rect x="533" y="632" width="1" height="72" fill="#c0c0c0"/>
<rect x="541" y="640" width="1" height="64" fill="#c0c0c0"/>
<rect x="549" y="647" width="1" height="57" fill="#c0c0c0"/>
<rect x="557" y="653" width="1" height="51" fill="#c0c0c0"/>
<rect x="565" y="656" width="1" height="48" fill="#c0c0c0"/>
<rect x="573" y="658" width="1" height="46" fill="#c0c0c0"/>
<rect x="581" y="662" width="1" height="42" fill="#c0c0c0"/>
<rect x="589" y="660" width="1" height="44" fill="#c0c0c0"/>
<rect x="597" y="658" width="1" height="46" fill="#c0c0c0"/>
<rect x="605" y="655" width="1" height="49" fill="#c0c0c0"/>
<rect x="613" y="655" width="1" height="49" fill="#c0c0c0"/>
<rect x="621" y="660" width="1" height="44" fill="#c0c0c0"/>
<rect x="629" y="665" width="1" height="39" fill="#c0c0c0"/>
<rect x="637" y="668" width="1" height="36" fill="#c0c0c0"/>
<rect x="645" y="673" width="1" height="31" fill="#c0c0c0"/>
<rect x="653" y="677" width="1" height="27" fill="#c0c0c0"/>
<rect x="661" y="685" width="1" height="19" fill="#c0c0c0"/>
<rect x="669" y="689" width="1" height="15" fill="#c0c0c0"/>
<rect x="677" y="690" width="1" height="14" fill="#c0c0c0"/>
<rect x="685" y="691" width="1" height="13" fill="#c0c0c0"/>
<rect x="693" y="692" width="1" height="12" fill="#c0c0c0"/>
<rect x="701" y="690" width="1" height="14" fill="#c0c0c0"/>
<rect x="709" y="691" width="1" height="13" fill="#c0c0c0"/>
<rect x="717" y="694" width="1" height="10" fill="#c0c0c0"/>
<rect x="725" y="694" width="1" height="10" fill="#c0c0c0"/>
<rect x="733" y="693" width="1" height="11" fill="#c0c0c0"/>
<rect x="741" y="694" width="1" height="10" fill="#c0c0c0"/>
<rect x="749" y="700" width="1" height="4" fill="#c0c0c0"/>
<rect x="757" y="703" width="1" height="6" fill="#c0c0c0"/>
<rect x="765" y="703" width="1" height="16" fill="#c0c0c0"/>
<rect x="773" y="703" width="1" height="23" fill="#c0c0c0"/>
<rect x="781" y="703" width="1" height="31" fill="#c0c0c0"/>
<rect x="789" y="703" width="1" height="36" fill="#c0c0c0"/>
<rect x="797" y="703" width="1" height="37" fill="#c0c0c0"/>
<rect x="805" y="703" width="1" height="33" fill="#c0c0c0"/>
<rect x="813" y="703" width="1" height="31" fill="#c0c0c0"/>
<rect x="821" y="703" width="1" height="27" fill="#c0c0c0"/>
<rect x="829" y="703" width="1" height="26" fill="#c0c0c0"/>
<rect x="837" y="703" width="1" height="25" fill="#c0c0c0"/>
<rect x="845" y="703" width="1" height="19" fill="#c0c0c0"/>
<rect x="853" y="703" width="1" height="17" fill="#c0c0c0"/>
<rect x="861" y="703" width="1" height="14" fill="#c0c0c0"/>
<rect x="869" y="703" width="1" height="11" fill="#c0c0c0"/>
<rect x="877" y="703" width="1" height="5" fill="#c0c0c0"/>
<rect x="885" y="703" width="1" height="1" fill="#c0c0c0"/>
<rect x="893" y="700" width="1" height="4" fill="#c0c0c0"/>
<rect x="901" y="702" width="1" height="2" fill="#c0c0c0"/>
<rect x="909" y="703" width="1" height="2" fill="#c0c0c0"/>
<rect x="917" y="703" width="1" height="6" fill="#c0c0c0"/>
<rect x="925" y="703" width="1" height="8" fill="#c0c0c0"/>
<rect x="933" y="703" width="1" height="10" fill="#c0c0c0"/>
<rect x="941" y="703" width="1" height="7" fill="#c0c0c0"/>
<rect x="949" y="703" width="1" height="2" fill="#c0c0c0"/>
<rect x="957" y="697" width="1" height="7" fill="#c0c0c0"/>
<rect x="965" y="695" width="1" height="9" fill="#c0c0c0"/>
<rect x="973" y="690" width="1" height="14" fill="#c0c0c0"/>
<rect x="981" y="687" width="1" height="17" fill="#c0c0c0"/>
<rect x="989" y="688" width="1" height="16" fill="#c0c0c0"/>
<rect x="997" y="691" width="1" height="13" fill="#c0c0c0"/>
<rect x="1005" y="695" width="1" height="9" fill="#c0c0c0"/>
<rect x="1013" y="703" width="1" height="1" fill="#c0c0c0"/>
<rect x="1021" y="703" width="1" height="10" fill="#c0c0c0"/>
<rect x="1029" y="703" width="1" height="17" fill="#c0c0c0"/>
<rect x="1037" y="703" width="1" height="22" fill="#c0c0c0"/>
<rect x="1045" y="703" width="1" height="18" fill="#c0c0c0"/>
<rect x="1053" y="703" width="1" height="17" fill="#c0c0c0"/>
<rect x="1061" y="703" width="1" height="10" fill="#c0c0c0"/>
<rect x="1069" y="701" width="1" height="3" fill="#c0c0c0"/>
<rect x="1077" y="693" width="1" height="11" fill="#c0c0c0"/>
<rect x="1085" y="691" width="1" height="13" fill="#c0c0c0"/>
<rect x="1093" y="690" width="1" height="14" fill="#c0c0c0"/>
<rect x="1101" y="692" width="1" height="12" fill="#c0c0c0"/>
<rect x="1109" y="692" width="1" height="12" fill="#c0c0c0"/>
<rect x="1117" y="690" width="1" height="14" fill="#c0c0c0"/>
<rect x="1125" y="688" width="1" height="16" fill="#c0c0c0"/>
<rect x="1133" y="686" width="1" height="18" fill="#c0c0c0"/>
<rect x="1141" y="684" width="1" height="20" fill="#c0c0c0"/>
<rect x="1149" y="684" width="1" height="20" fill="#c0c0c0"/>
<rect x="1157" y="682" width="1" height="22" fill="#c0c0c0"/>
<rect x="1165" y="682" width="1" height="22" fill="#c0c0c0"/>
<rect x="1173" y="682" width="1" height="22" fill="#c0c0c0"/>
<rect x="1181" y="683" width="1" height="21" fill="#c0c0c0"/>
<rect x="1189" y="681" width="1" height="23" fill="#c0c0c0"/>
<rect x="1197" y="678" width="1" height="26" fill="#c0c0c0"/>
<rect x="1205" y="676" width="1" height="28" fill="#c0c0c0"/>
<rect x="1213" y="672" width="1" height="32" fill="#c0c0c0"/>
<rect x="1221" y="669" width="1" height="35" fill="#c0c0c0"/>
<rect x="1229" y="668" width="1" height="36" fill="#c0c0c0"/>
<rect x="1237" y="660" width="1" height="44" fill="#c0c0c0"/>
<rect x="1245" y="650" width="1" height="54" fill="#c0c0c0"/>
<rect x="1253" y="641" width="1" height="63" fill="#c0c0c0"/>
<rect x="1261" y="636" width="1" height="68" fill="#c0c0c0"/>
<rect x="1269" y="633" width="1" height="71" fill="#c0c0c0"/>
<rect x="1277" y="633" width="1" height="71" fill="#c0c0c0"/>
<rect x="1285" y="633" width="1" height="71" fill="#c0c0c0"/>
<rect x="1293" y="636" width="1" height="68" fill="#c0c0c0"/>
<rect x="1301" y="635" width="1" height="69" fill="#c0c0c0"/>
<rect x="1309" y="637" width="1" height="67" fill="#c0c0c0"/>
<rect x="1317" y="638" width="1" height="66" fill="#c0c0c0"/>
<rect x="1325" y="639" width="1" height="65" fill="#c0c0c0"/>
<rect x="1333" y="639" width="1" height="65" fill="#c0c0c0"/>
<rect x="1341" y="638" width="1" height="66" fill="#c0c0c0"/>
<rect x="1349" y="633" width="1" height="71" fill="#c0c0c0"/>
<rect x="1357" y="631" width="1" height="73" fill="#c0c0c0"/>
<rect x="1365" y="633" width="1" height="71" fill="#c0c0c0"/>
<rect x="1373" y="633" width="1" height="71" fill="#c0c0c0"/>
<rect x="1381" y="637" width="1" height="67" fill="#c0c0c0"/>
<rect x="1389" y="641" width="1" height="63" fill="#c0c0c0"/>
<rect x="1397" y="646" width="1" height="58" fill="#c0c0c0"/>
<rect x="1405" y="648" width="1" height="56" fill="#c0c0c0"/>
<rect x="1413" y="650" width="1" height="54" fill="#c0c0c0"/>
<rect x="1421" y="650" width="1" height="54" fill="#c0c0c0"/>
<path d="M231,679.5h3M237,679.5h3M243,679.5h3M249,679.5h3M255,679.5h3M261,679.5h3M267,679.5h3M687,679.5h3M1216,679.5h2M28,636.5h1M561,636.5h2M1317,636.5h3M1323,636.5h3M1329,636.5h3M1335,636.5h3M1341,636.5h3M1347,636.5h3M1353,636.5h3M1359,636.5h3M1365,636.5h3M1371,636.5h3M1377,636.5h3M1383,636.5h3M1389,636.5h3M693,681.5h2M1203,681.5h3M1209,681.5h1M118,630.5h2M376,630.5h1M544,630.5h2M783,707.5h1M922,707.5h2M927,707.5h3M1095,707.5h3M63,614.5h1M93,614.5h2M394,614.5h2M501,614.5h2M970,703.5h2M975,703.5h1M1042,703.5h2M153,651.5h1M346,651.5h1M1277,651.5h1M117,629.5h1M377,629.5h1M543,629.5h1M423,596.5h3M465,596.5h2M825,730.5h3M855,730.5h1M363,640.5h1M1300,640.5h2M1419,640.5h1M705,685.5h1M1173,685.5h3M1179,685.5h3M27,637.5h1M129,637.5h1M563,637.5h1M1311,637.5h3M1395,637.5h3M1401,637.5h1M21,643.5h1M358,643.5h2M1293,643.5h2M724,691.5h2M729,691.5h1M1132,691.5h2M40,626.5h2M113,626.5h1M381,626.5h1M531,626.5h1M189,668.5h3M309,668.5h3M665,668.5h1M75,611.5h3M81,611.5h1M399,611.5h1M495,611.5h2M219,677.5h3M279,677.5h1M683,677.5h1M1227,677.5h3M730,692.5h2M735,692.5h3M741,692.5h3M1131,692.5h1M292,673.5h2M675,673.5h2M1239,673.5h3M5,659.5h1M167,659.5h1M628,659.5h2M633,659.5h1M1264,659.5h2M1059,710.5h1M1083,710.5h3M207,674.5h3M291,674.5h1M677,674.5h1M1210,680.5h2M1215,680.5h1M130,638.5h1M365,638.5h1M1306,638.5h2M1402,638.5h2M1407,638.5h3M819,728.5h2M861,728.5h2M131,639.5h1M364,639.5h1M567,639.5h3M1305,639.5h1M1413,639.5h3M815,726.5h1M867,726.5h1M3,661.5h1M171,661.5h2M327,661.5h2M640,661.5h2M335,657.5h1M621,657.5h3M-3,667.5h1M315,667.5h1M663,667.5h2M1251,667.5h2M16,648.5h1M147,648.5h2M351,648.5h1M587,648.5h1M1283,648.5h1M22,642.5h1M137,642.5h1M575,642.5h1M1295,642.5h1M53,617.5h1M99,617.5h2M507,617.5h2M15,649.5h1M149,649.5h1M1281,649.5h2M196,670.5h2M303,670.5h3M669,670.5h2M1246,670.5h2M747,693.5h3M1127,693.5h1M831,731.5h3M849,731.5h3M442,591.5h2M447,591.5h3M453,591.5h2M419,598.5h1M933,706.5h3M939,706.5h3M945,706.5h3M951,706.5h3M1049,706.5h1M165,658.5h2M333,658.5h2M627,658.5h1M909,709.5h3M1055,709.5h1M1089,709.5h3M789,711.5h1M903,711.5h3M1060,711.5h2M1065,711.5h1M1077,711.5h3M723,690.5h1M1137,690.5h3M178,664.5h2M321,664.5h2M657,664.5h1M1257,664.5h1M34,631.5h2M375,631.5h1M549,631.5h2M887,717.5h1M45,622.5h1M107,622.5h1M519,622.5h3M795,715.5h2M892,715.5h2M17,647.5h1M352,647.5h2M585,647.5h2M58,615.5h2M95,615.5h1M393,615.5h1M503,615.5h1M429,594.5h3M460,594.5h2M489,608.5h2M388,619.5h1M513,619.5h1M23,641.5h1M135,641.5h2M573,641.5h2M1299,641.5h1M1420,641.5h2M779,705.5h1M957,705.5h3M1047,705.5h2M1101,705.5h2M790,712.5h2M1066,712.5h2M1071,712.5h3M401,609.5h1M491,609.5h1M406,605.5h2M483,605.5h2M784,708.5h2M915,708.5h3M921,708.5h1M1053,708.5h2M9,655.5h1M159,655.5h2M339,655.5h2M609,655.5h3M1270,655.5h2M898,713.5h2M987,700.5h1M1035,700.5h1M1113,700.5h1M700,684.5h2M1185,684.5h3M711,687.5h1M1155,687.5h3M1161,687.5h3M1167,687.5h1M1287,646.5h2M699,683.5h1M1191,683.5h3M64,613.5h2M88,613.5h2M1005,695.5h3M1018,695.5h2M202,672.5h2M297,672.5h3M479,603.5h1M417,599.5h2M471,599.5h2M695,682.5h1M1197,682.5h3M173,662.5h1M645,662.5h3M1259,662.5h1M809,723.5h1M874,723.5h2M773,702.5h1M976,702.5h2M1041,702.5h1M1107,702.5h2M712,688.5h2M1149,688.5h3M10,654.5h1M341,654.5h1M604,654.5h2M765,698.5h2M993,698.5h3M1029,698.5h2M821,729.5h1M856,729.5h2M777,704.5h2M963,704.5h3M969,704.5h1M1103,704.5h1M285,675.5h3M1234,675.5h2M436,592.5h2M441,592.5h1M455,592.5h1M759,696.5h3M1000,696.5h2M1023,696.5h3M1121,696.5h1M771,701.5h2M981,701.5h3M1036,701.5h2M1109,701.5h1M863,727.5h1M-2,666.5h1M183,666.5h3M316,666.5h2M1253,666.5h1M837,732.5h3M843,732.5h3M411,602.5h2M477,602.5h2M161,656.5h1M615,656.5h3M1269,656.5h1M225,678.5h3M273,678.5h3M1221,678.5h3M753,694.5h3M1011,694.5h3M1017,694.5h1M1125,694.5h2M213,676.5h3M280,676.5h2M681,676.5h2M1233,676.5h1M141,644.5h1M357,644.5h1M579,644.5h2M154,652.5h1M345,652.5h1M597,652.5h3M1275,652.5h2M111,624.5h1M383,624.5h1M525,624.5h2M51,618.5h2M101,618.5h1M389,618.5h1M509,618.5h1M801,718.5h1M885,718.5h2M29,635.5h1M125,635.5h1M369,635.5h1M767,699.5h1M988,699.5h2M1031,699.5h1M1114,699.5h2M4,660.5h1M329,660.5h1M634,660.5h2M639,660.5h1M1263,660.5h1M124,634.5h1M370,634.5h2M556,634.5h2M-1,665.5h1M658,665.5h2M33,632.5h1M551,632.5h1M813,725.5h2M868,725.5h2M177,663.5h1M323,663.5h1M651,663.5h3M1258,663.5h1M69,612.5h3M82,612.5h2M87,612.5h1M497,612.5h1M537,628.5h3M803,720.5h1M881,720.5h1M717,689.5h3M1143,689.5h3M105,620.5h1M387,620.5h1M514,620.5h2M413,601.5h1M405,606.5h1M485,606.5h1M999,697.5h1M1119,697.5h2M142,645.5h2M581,645.5h1M1289,645.5h1M706,686.5h2M1168,686.5h2M797,716.5h1M891,716.5h1M473,600.5h1M39,627.5h1M532,627.5h2M347,650.5h1M591,650.5h3M879,721.5h2M201,671.5h1M671,671.5h1M1245,671.5h1M46,621.5h2M106,621.5h1M400,610.5h1M123,633.5h1M555,633.5h1M807,722.5h2M11,653.5h1M155,653.5h1M603,653.5h1M57,616.5h1M897,714.5h1M802,719.5h1M873,724.5h1M195,669.5h1M112,625.5h1M382,625.5h1M527,625.5h1M467,597.5h1M435,593.5h1M459,593.5h1" fill="none" stroke="#ff0000" stroke-width="1"/>
</g>
<g class="c" clip-path="url(#crsi)">
<line x1="0" y1="785.5" x2="1687" y2="785.5" stroke="#c0c0c0" stroke-dasharray="3 3"/>
<line x1="0" y1="836.5" x2="1687" y2="836.5" stroke="#c0c0c0" stroke-dasharray="3 3"/>
<line x1="0" y1="897.5" x2="1687" y2="897.5" stroke="#c0c0c0" stroke-dasharray="3 3"/>
<path d="M1043.5,839v4M520.5,805v3M524.5,816v3M1039.5,852v4M1233.5,807v3M442.5,806v3M1042.5,843v3M1044.5,836v3M393.5,789v3M521.5,808v3M440.5,801v3M47.5,791v3M51.5,801v3M1038.5,856v3M518.5,800v3M1041.5,846v3M522.5,811v3M1040.5,849v3M49.5,796v3M52,804.5h1M318,804.5h1M413,804.5h2M441,804.5h1M510,804.5h1M519,804.5h1M1235,804.5h1M1287,804.5h1M1299,804.5h1M1303,804.5h1M1334,804.5h2M1362,804.5h1M1372,804.5h2M87,821.5h2M125,821.5h1M137,821.5h1M218,821.5h1M225,821.5h1M233,821.5h1M241,821.5h1M264,821.5h1M460,821.5h1M470,821.5h1M536,821.5h1M586,821.5h1M616,821.5h1M951,821.5h2M960,821.5h1M972,821.5h1M976,821.5h4M1065,821.5h1M1080,821.5h1M1188,821.5h1M53,807.5h1M77,807.5h1M282,807.5h4M306,807.5h6M503,807.5h3M1220,807.5h2M1289,807.5h1M1297,807.5h1M1305,807.5h1M1320,807.5h4M1365,807.5h2M1375,807.5h1M764,864.5h1M767,864.5h2M776,864.5h2M790,864.5h1M94,825.5h2M123,825.5h1M140,825.5h1M216,825.5h1M228,825.5h1M230,825.5h1M244,825.5h1M252,825.5h4M538,825.5h1M564,825.5h1M577,825.5h2M583,825.5h1M618,825.5h1M701,825.5h1M876,825.5h1M880,825.5h4M947,825.5h1M963,825.5h1M967,825.5h1M984,825.5h1M1062,825.5h1M1083,825.5h1M1124,825.5h6M1145,825.5h2M1153,825.5h2M1164,825.5h6M1174,825.5h2M1185,825.5h1M12,790.5h1M16,790.5h4M23,790.5h3M36,790.5h3M46,790.5h1M340,790.5h3M372,790.5h1M374,790.5h2M759,860.5h1M793,860.5h1M1021,860.5h17M60,817.5h1M66,817.5h2M83,817.5h1M131,817.5h2M134,817.5h1M221,817.5h1M236,817.5h1M238,817.5h1M269,817.5h1M456,817.5h1M475,817.5h1M531,817.5h2M534,817.5h1M589,817.5h2M614,817.5h1M1069,817.5h5M1078,817.5h1M1193,817.5h2M1204,817.5h2M1229,817.5h1M1381,817.5h5M1391,817.5h3M1401,817.5h2M101,830.5h2M120,830.5h1M146,830.5h1M169,830.5h2M178,830.5h2M183,830.5h3M196,830.5h6M540,830.5h1M544,830.5h4M554,830.5h4M621,830.5h5M632,830.5h4M639,830.5h2M694,830.5h2M707,830.5h1M730,830.5h6M845,830.5h1M872,830.5h1M895,830.5h1M944,830.5h1M988,830.5h1M1059,830.5h1M1092,830.5h2M1113,830.5h2M1181,830.5h1M749,848.5h1M800,848.5h1M917,848.5h2M1008,848.5h1M109,834.5h5M118,834.5h1M647,834.5h3M677,834.5h5M711,834.5h1M722,834.5h1M742,834.5h1M843,834.5h1M848,834.5h1M861,834.5h9M897,834.5h1M941,834.5h1M993,834.5h1M1045,834.5h1M1056,834.5h1M1098,834.5h2M1105,834.5h2M325,796.5h2M396,796.5h1M427,796.5h2M437,796.5h1M1242,796.5h1M1264,796.5h2M1344,796.5h1M1354,796.5h1M656,840.5h1M667,840.5h1M717,840.5h1M745,840.5h1M805,840.5h2M819,840.5h2M822,840.5h2M839,840.5h1M853,840.5h1M900,840.5h1M937,840.5h1M1001,840.5h1M58,814.5h1M71,814.5h1M81,814.5h1M272,814.5h1M292,814.5h1M294,814.5h1M445,814.5h9M479,814.5h3M523,814.5h1M595,814.5h2M612,814.5h2M1208,814.5h1M1227,814.5h1M1230,814.5h1M1379,814.5h1M1408,814.5h4M85,820.5h2M126,820.5h2M136,820.5h1M219,820.5h1M224,820.5h1M234,820.5h1M240,820.5h1M265,820.5h1M459,820.5h1M471,820.5h1M525,820.5h2M535,820.5h1M587,820.5h1M616,820.5h1M953,820.5h2M959,820.5h1M973,820.5h3M1066,820.5h1M1080,820.5h1M1188,820.5h1M114,835.5h4M650,835.5h2M675,835.5h2M712,835.5h1M721,835.5h1M742,835.5h1M842,835.5h1M849,835.5h1M860,835.5h1M898,835.5h1M940,835.5h1M994,835.5h2M1045,835.5h3M1055,835.5h1M1100,835.5h1M1103,835.5h2M100,829.5h1M120,829.5h1M144,829.5h2M171,829.5h2M175,829.5h3M186,829.5h2M192,829.5h4M202,829.5h12M540,829.5h1M548,829.5h6M558,829.5h2M620,829.5h1M636,829.5h3M696,829.5h1M706,829.5h1M873,829.5h1M894,829.5h1M944,829.5h1M987,829.5h1M1059,829.5h1M1088,829.5h4M1115,829.5h2M1180,829.5h1M1182,829.5h1M105,832.5h2M119,832.5h1M149,832.5h5M162,832.5h5M643,832.5h2M688,832.5h4M709,832.5h1M724,832.5h1M740,832.5h2M844,832.5h1M847,832.5h1M871,832.5h1M896,832.5h1M942,832.5h1M990,832.5h2M1057,832.5h1M1096,832.5h1M1109,832.5h2M50,799.5h1M322,799.5h1M397,799.5h5M422,799.5h2M439,799.5h1M516,799.5h2M1237,799.5h1M1269,799.5h2M1341,799.5h1M1357,799.5h1M760,861.5h2M773,861.5h1M792,861.5h1M659,843.5h1M664,843.5h1M746,843.5h1M803,843.5h1M811,843.5h2M814,843.5h2M826,843.5h2M836,843.5h2M911,843.5h1M935,843.5h1M1005,843.5h1M56,811.5h1M73,811.5h1M79,811.5h1M274,811.5h1M289,811.5h1M298,811.5h1M444,811.5h1M488,811.5h4M604,811.5h3M1211,811.5h1M1224,811.5h1M1232,811.5h1M1293,811.5h1M1309,811.5h2M1377,811.5h1M1416,811.5h2M97,827.5h1M122,827.5h1M141,827.5h1M214,827.5h1M245,827.5h3M539,827.5h1M561,827.5h1M581,827.5h1M619,827.5h1M698,827.5h2M703,827.5h1M875,827.5h1M890,827.5h4M946,827.5h1M965,827.5h1M985,827.5h1M1060,827.5h1M1084,827.5h1M1119,827.5h3M1149,827.5h2M1177,827.5h1M1183,827.5h1M107,833.5h2M118,833.5h1M645,833.5h2M682,833.5h6M710,833.5h1M723,833.5h1M741,833.5h1M843,833.5h1M847,833.5h1M870,833.5h1M896,833.5h1M942,833.5h1M992,833.5h1M1057,833.5h1M1097,833.5h1M1107,833.5h2M754,855.5h1M796,855.5h1M1013,855.5h1M103,831.5h2M119,831.5h1M147,831.5h2M154,831.5h8M167,831.5h2M180,831.5h3M541,831.5h3M626,831.5h6M641,831.5h2M692,831.5h2M708,831.5h1M725,831.5h5M736,831.5h4M844,831.5h1M846,831.5h1M871,831.5h1M895,831.5h1M943,831.5h1M989,831.5h1M1058,831.5h1M1094,831.5h2M1111,831.5h2M91,823.5h2M124,823.5h1M138,823.5h1M217,823.5h1M226,823.5h1M231,823.5h1M242,823.5h1M260,823.5h2M537,823.5h1M570,823.5h5M584,823.5h1M617,823.5h1M948,823.5h1M961,823.5h1M970,823.5h1M982,823.5h1M1064,823.5h1M1082,823.5h1M1138,823.5h5M1157,823.5h3M1186,823.5h1M59,816.5h1M68,816.5h2M83,816.5h1M133,816.5h1M237,816.5h1M270,816.5h1M455,816.5h1M476,816.5h1M533,816.5h1M591,816.5h2M614,816.5h1M1074,816.5h4M1195,816.5h2M1200,816.5h4M1206,816.5h1M1228,816.5h2M1380,816.5h1M1386,816.5h5M1403,816.5h2M654,837.5h1M671,837.5h2M714,837.5h1M720,837.5h1M743,837.5h1M841,837.5h1M851,837.5h1M857,837.5h1M899,837.5h1M939,837.5h1M997,837.5h1M1050,837.5h1M1054,837.5h1M93,824.5h1M123,824.5h1M139,824.5h1M216,824.5h1M227,824.5h1M231,824.5h1M243,824.5h1M256,824.5h4M537,824.5h1M565,824.5h5M575,824.5h2M583,824.5h1M618,824.5h1M877,824.5h3M948,824.5h1M962,824.5h1M968,824.5h2M983,824.5h1M1063,824.5h1M1082,824.5h1M1130,824.5h8M1143,824.5h2M1155,824.5h2M1160,824.5h4M1170,824.5h4M1185,824.5h1M657,841.5h1M666,841.5h1M745,841.5h1M804,841.5h1M807,841.5h2M818,841.5h1M824,841.5h1M838,841.5h1M901,841.5h9M936,841.5h1M1002,841.5h2M96,826.5h1M122,826.5h1M140,826.5h1M215,826.5h1M229,826.5h1M244,826.5h1M248,826.5h4M538,826.5h1M562,826.5h2M579,826.5h2M582,826.5h1M619,826.5h1M700,826.5h1M702,826.5h1M875,826.5h1M884,826.5h6M946,826.5h1M964,826.5h1M966,826.5h1M985,826.5h1M1061,826.5h1M1084,826.5h1M1122,826.5h2M1147,826.5h2M1151,826.5h2M1176,826.5h1M1184,826.5h1M48,794.5h1M330,794.5h2M395,794.5h1M1245,794.5h3M1260,794.5h2M1346,794.5h1M1352,794.5h1M28,792.5h4M335,792.5h3M394,792.5h1M1252,792.5h4M1348,792.5h1M1350,792.5h1M54,808.5h1M76,808.5h1M78,808.5h1M277,808.5h5M286,808.5h1M301,808.5h5M500,808.5h3M1216,808.5h4M1222,808.5h1M1290,808.5h1M1296,808.5h1M1306,808.5h1M1316,808.5h4M1375,808.5h1M1421,808.5h1M332,793.5h3M394,793.5h1M1248,793.5h4M1256,793.5h4M1347,793.5h1M1351,793.5h1M321,801.5h1M407,801.5h2M419,801.5h2M514,801.5h1M1236,801.5h1M1274,801.5h2M1338,801.5h2M1359,801.5h1M57,813.5h1M72,813.5h1M81,813.5h1M273,813.5h1M291,813.5h1M295,813.5h1M445,813.5h1M482,813.5h2M597,813.5h3M610,813.5h2M1209,813.5h1M1226,813.5h1M1231,813.5h1M1379,813.5h1M1412,813.5h2M53,806.5h1M312,806.5h4M506,806.5h2M1234,806.5h1M1289,806.5h1M1297,806.5h1M1305,806.5h1M1324,806.5h6M1364,806.5h1M1367,806.5h3M1374,806.5h1M8,787.5h2M44,787.5h2M348,787.5h6M371,787.5h1M379,787.5h2M392,787.5h1M55,810.5h1M74,810.5h1M79,810.5h1M275,810.5h1M288,810.5h1M299,810.5h1M443,810.5h1M492,810.5h4M1212,810.5h1M1223,810.5h1M1232,810.5h1M1292,810.5h1M1294,810.5h1M1308,810.5h1M1311,810.5h3M1377,810.5h1M1418,810.5h1M758,859.5h1M793,859.5h1M1019,859.5h2M1037,859.5h1M98,828.5h2M121,828.5h1M142,828.5h2M173,828.5h2M188,828.5h4M214,828.5h1M539,828.5h1M560,828.5h1M620,828.5h1M697,828.5h1M704,828.5h2M874,828.5h1M894,828.5h1M945,828.5h1M986,828.5h1M1060,828.5h1M1085,828.5h3M1117,828.5h2M1178,828.5h2M1182,828.5h1M655,839.5h1M668,839.5h1M716,839.5h1M718,839.5h1M744,839.5h1M821,839.5h1M839,839.5h1M852,839.5h1M854,839.5h2M900,839.5h1M938,839.5h1M1000,839.5h1M1053,839.5h1M658,842.5h1M665,842.5h1M746,842.5h1M804,842.5h1M809,842.5h2M816,842.5h2M825,842.5h1M838,842.5h1M910,842.5h1M936,842.5h1M1004,842.5h1M56,812.5h1M73,812.5h1M80,812.5h1M273,812.5h1M290,812.5h1M296,812.5h2M444,812.5h1M484,812.5h4M600,812.5h4M607,812.5h3M1210,812.5h1M1225,812.5h1M1231,812.5h1M1378,812.5h1M1414,812.5h2M652,836.5h2M673,836.5h2M713,836.5h1M721,836.5h1M743,836.5h1M841,836.5h1M850,836.5h1M858,836.5h2M898,836.5h1M940,836.5h1M996,836.5h1M1048,836.5h2M1055,836.5h1M1101,836.5h2M52,805.5h1M316,805.5h2M441,805.5h1M508,805.5h2M1234,805.5h1M1288,805.5h1M1298,805.5h1M1304,805.5h1M1330,805.5h4M1363,805.5h1M1370,805.5h2M1374,805.5h1M89,822.5h2M124,822.5h1M137,822.5h1M218,822.5h1M225,822.5h1M232,822.5h1M241,822.5h1M262,822.5h2M461,822.5h9M536,822.5h1M585,822.5h1M617,822.5h1M949,822.5h2M961,822.5h1M971,822.5h1M980,822.5h2M1065,822.5h1M1081,822.5h1M1187,822.5h1M58,815.5h1M70,815.5h1M82,815.5h1M271,815.5h1M293,815.5h1M454,815.5h1M477,815.5h2M523,815.5h1M593,815.5h2M613,815.5h1M1197,815.5h3M1207,815.5h1M1227,815.5h1M1230,815.5h1M1380,815.5h1M1405,815.5h3M10,788.5h1M42,788.5h2M45,788.5h1M346,788.5h2M371,788.5h1M378,788.5h1M392,788.5h1M659,844.5h1M663,844.5h1M747,844.5h1M803,844.5h1M813,844.5h1M828,844.5h1M832,844.5h4M912,844.5h2M934,844.5h1M1006,844.5h1M755,856.5h1M796,856.5h1M1014,856.5h2M748,847.5h1M801,847.5h1M916,847.5h1M919,847.5h3M1008,847.5h1M660,845.5h1M662,845.5h1M747,845.5h1M802,845.5h1M829,845.5h3M914,845.5h1M924,845.5h6M934,845.5h1M1006,845.5h1M60,818.5h1M63,818.5h3M84,818.5h1M130,818.5h1M134,818.5h1M220,818.5h1M222,818.5h1M235,818.5h1M238,818.5h1M268,818.5h1M457,818.5h1M474,818.5h1M529,818.5h2M534,818.5h1M588,818.5h1M615,818.5h1M957,818.5h1M1068,818.5h1M1078,818.5h1M1191,818.5h2M1394,818.5h2M1399,818.5h2M-3,786.5h3M7,786.5h1M354,786.5h4M370,786.5h1M381,786.5h1M391,786.5h1M661,846.5h1M748,846.5h1M802,846.5h1M915,846.5h1M922,846.5h2M930,846.5h4M1007,846.5h1M13,791.5h3M26,791.5h2M32,791.5h4M338,791.5h2M373,791.5h1M1349,791.5h1M61,819.5h2M84,819.5h1M128,819.5h2M135,819.5h1M220,819.5h1M223,819.5h1M235,819.5h1M239,819.5h1M266,819.5h2M458,819.5h1M472,819.5h2M525,819.5h1M527,819.5h2M535,819.5h1M587,819.5h1M615,819.5h1M955,819.5h2M958,819.5h1M1067,819.5h1M1079,819.5h1M1189,819.5h2M1396,819.5h3M48,795.5h1M327,795.5h3M395,795.5h1M429,795.5h9M1243,795.5h2M1262,795.5h2M1345,795.5h1M1353,795.5h1M324,797.5h1M396,797.5h1M426,797.5h1M438,797.5h1M1240,797.5h2M1266,797.5h1M1343,797.5h1M1355,797.5h1M361,782.5h1M367,782.5h1M387,782.5h3M319,803.5h1M411,803.5h2M415,803.5h2M511,803.5h1M519,803.5h1M1235,803.5h1M1286,803.5h1M1300,803.5h1M1302,803.5h1M1336,803.5h1M1361,803.5h1M655,838.5h1M669,838.5h2M715,838.5h1M719,838.5h1M744,838.5h1M840,838.5h1M851,838.5h1M856,838.5h1M899,838.5h1M938,838.5h1M998,838.5h2M1051,838.5h2M1054,838.5h1M50,800.5h1M321,800.5h1M402,800.5h5M421,800.5h1M439,800.5h1M515,800.5h1M1237,800.5h1M1271,800.5h3M1340,800.5h1M1358,800.5h1M756,857.5h1M795,857.5h1M1016,857.5h2M323,798.5h1M397,798.5h1M424,798.5h2M438,798.5h1M517,798.5h1M1238,798.5h2M1267,798.5h2M1342,798.5h1M1356,798.5h1M0,785.5h4M6,785.5h1M358,785.5h1M369,785.5h1M382,785.5h2M391,785.5h1M753,854.5h1M797,854.5h1M1012,854.5h1M320,802.5h1M409,802.5h2M417,802.5h2M512,802.5h2M1236,802.5h1M1276,802.5h10M1301,802.5h1M1337,802.5h1M1360,802.5h1M763,863.5h1M769,863.5h2M775,863.5h1M790,863.5h1M365,778.5h1M54,809.5h1M75,809.5h1M78,809.5h1M276,809.5h1M287,809.5h1M300,809.5h1M443,809.5h1M496,809.5h4M1213,809.5h3M1223,809.5h1M1291,809.5h1M1295,809.5h1M1307,809.5h1M1314,809.5h2M1376,809.5h1M1419,809.5h2M11,789.5h1M20,789.5h3M39,789.5h3M46,789.5h1M343,789.5h3M372,789.5h1M376,789.5h2M4,784.5h2M359,784.5h1M369,784.5h1M384,784.5h2M390,784.5h1M779,866.5h1M786,866.5h2M780,867.5h1M783,867.5h3M362,781.5h1M367,781.5h1M389,781.5h1M749,849.5h1M800,849.5h1M1009,849.5h1M765,865.5h2M778,865.5h1M788,865.5h2M762,862.5h1M771,862.5h2M774,862.5h1M791,862.5h1M364,779.5h1M366,779.5h1M360,783.5h1M368,783.5h1M386,783.5h1M390,783.5h1M781,868.5h2M750,850.5h1M799,850.5h1M1010,850.5h1M751,851.5h1M799,851.5h1M1010,851.5h1M363,780.5h1M366,780.5h1M753,853.5h1M798,853.5h1M1012,853.5h1M757,858.5h1M794,858.5h1M1018,858.5h1M752,852.5h1M798,852.5h1M1011,852.5h1" fill="none" stroke="#1E90FF" stroke-width="1"/>
</g>
<g class="c">
<rect x="0" y="22" width="1688" height="1" fill="#000"/>
<rect x="1687" y="22" width="1" height="902" fill="#000"/>
<rect x="0" y="575" width="1688" height="1" fill="#000"/>
<rect x="0" y="577" width="1688" height="1" fill="#000"/>
<rect x="0" y="747" width="1688" height="1" fill="#000"/>
<rect x="0" y="749" width="1688" height="1" fill="#000"/>
<rect x="0" y="923" width="1688" height="1" fill="#000"/>
<rect x="0" y="576" width="1734" height="1" fill="#fff"/>
<rect x="0" y="748" width="1734" height="1" fill="#fff"/>
<rect x="1733" y="20" width="1" height="917" fill="#e4e4e4"/>
<rect x="1688" y="77" width="2" height="1" fill="#000"/>
<rect x="1688" y="143" width="2" height="1" fill="#000"/>
<rect x="1688" y="176" width="2" height="1" fill="#000"/>
<rect x="1688" y="209" width="2" height="1" fill="#000"/>
<rect x="1688" y="242" width="2" height="1" fill="#000"/>
<rect x="1688" y="275" width="2" height="1" fill="#000"/>
<rect x="1688" y="308" width="2" height="1" fill="#000"/>
<rect x="1688" y="341" width="2" height="1" fill="#000"/>
<rect x="1688" y="374" width="2" height="1" fill="#000"/>
<rect x="1688" y="407" width="2" height="1" fill="#000"/>
<rect x="1688" y="440" width="2" height="1" fill="#000"/>
<rect x="1688" y="473" width="2" height="1" fill="#000"/>
<rect x="1688" y="506" width="2" height="1" fill="#000"/>
<rect x="1688" y="539" width="2" height="1" fill="#000"/>
<rect x="1688" y="572" width="2" height="1" fill="#000"/>
</g>
<text class="ax" transform="translate(1693.6,81) scale(1,1)">1.22150</text>
<text class="ax" transform="translate(1693.6,147) scale(1,1)">1.20710</text>
<text class="ax" transform="translate(1693.6,180) scale(1,1)">1.20010</text>
<text class="ax" transform="translate(1693.6,213) scale(1,1)">1.19290</text>
<text class="ax" transform="translate(1693.6,246) scale(1,1)">1.18570</text>
<text class="ax" transform="translate(1693.6,279) scale(1,1)">1.17870</text>
<text class="ax" transform="translate(1693.6,312) scale(1,1)">1.17150</text>
<text class="ax" transform="translate(1693.6,345) scale(1,1)">1.16430</text>
<text class="ax" transform="translate(1693.6,378) scale(1,1)">1.15730</text>
<text class="ax" transform="translate(1693.6,411) scale(1,1)">1.15010</text>
<text class="ax" transform="translate(1693.6,444) scale(1,1)">1.14290</text>
<text class="ax" transform="translate(1693.6,477) scale(1,1)">1.13590</text>
<text class="ax" transform="translate(1693.6,510) scale(1,1)">1.12870</text>
<text class="ax" transform="translate(1693.6,543) scale(1,1)">1.12150</text>
<text class="ax" transform="translate(1693.6,576) scale(1,1)">1.11450</text>
<rect x="1689" y="20" width="41" height="11" fill="#ff0000" class="c"/><text class="ax" transform="translate(1693.6,29)" style="fill:#fff">1.23235</text>
<rect x="1689" y="37" width="41" height="11" fill="#ff0000" class="c"/><text class="ax" transform="translate(1693.6,46)" style="fill:#fff">1.22868</text>
<rect x="1689" y="54" width="41" height="11" fill="#000" class="c"/><text class="ax" transform="translate(1693.6,63)" style="fill:#fff">1.22503</text>
<rect x="1689" y="65" width="41" height="11" fill="#ffa500" class="c"/><text class="ax" transform="translate(1693.6,74)" style="fill:#fff">1.22264</text>
<rect x="1689" y="84" width="41" height="11" fill="#0000ff" class="c"/><text class="ax" transform="translate(1693.6,93)" style="fill:#fff">1.21854</text>
<rect x="1689" y="104" width="41" height="11" fill="#0000ff" class="c"/><text class="ax" transform="translate(1693.6,113)" style="fill:#fff">1.21428</text>
<text class="ax" transform="translate(1690.8,588) scale(1,1)">0.014706</text>
<text class="ax" transform="translate(1690.8,707) scale(1,1)">0.00</text>
<text class="ax" transform="translate(1690.8,745) scale(1,1)">-0.005113</text>
<g class="c"><rect x="1688" y="703" width="2" height="1" fill="#000"/><rect x="1688" y="579" width="2" height="1" fill="#000"/></g>
<text class="ax" transform="translate(1690.6,760) scale(1,1)">100</text>
<text class="ax" transform="translate(1690.6,789) scale(1,1)">80</text>
<text class="ax" transform="translate(1690.6,840) scale(1,1)">50</text>
<text class="ax" transform="translate(1690.6,901) scale(1,1)">15</text>
<text class="ax" transform="translate(1690.6,920) scale(1,1)">0</text>
<g class="c">
<rect x="-3" y="924" width="1" height="3" fill="#000"/>
<rect x="61" y="924" width="1" height="3" fill="#000"/>
<rect x="125" y="924" width="1" height="3" fill="#000"/>
<rect x="189" y="924" width="1" height="3" fill="#000"/>
<rect x="253" y="924" width="1" height="3" fill="#000"/>
<rect x="317" y="924" width="1" height="3" fill="#000"/>
<rect x="381" y="924" width="1" height="3" fill="#000"/>
<rect x="445" y="924" width="1" height="3" fill="#000"/>
<rect x="509" y="924" width="1" height="3" fill="#000"/>
<rect x="573" y="924" width="1" height="3" fill="#000"/>
<rect x="637" y="924" width="1" height="3" fill="#000"/>
<rect x="701" y="924" width="1" height="3" fill="#000"/>
<rect x="765" y="924" width="1" height="3" fill="#000"/>
<rect x="829" y="924" width="1" height="3" fill="#000"/>
<rect x="893" y="924" width="1" height="3" fill="#000"/>
<rect x="957" y="924" width="1" height="3" fill="#000"/>
<rect x="1021" y="924" width="1" height="3" fill="#000"/>
<rect x="1085" y="924" width="1" height="3" fill="#000"/>
<rect x="1149" y="924" width="1" height="3" fill="#000"/>
<rect x="1213" y="924" width="1" height="3" fill="#000"/>
<rect x="1277" y="924" width="1" height="3" fill="#000"/>
<rect x="1341" y="924" width="1" height="3" fill="#000"/>
<rect x="1405" y="924" width="1" height="3" fill="#000"/>
</g>
<text class="ax" transform="translate(-3.3,936) scale(1,1)">3 Jun 2020</text>
<text class="ax" transform="translate(60.7,936) scale(1,1)">12 Jun 2020</text>
<text class="ax" transform="translate(124.7,936) scale(1,1)">22 Jun 2020</text>
<text class="ax" transform="translate(188.7,936) scale(1,1)">1 Jul 2020</text>
<text class="ax" transform="translate(252.7,936) scale(1,1)">10 Jul 2020</text>
<text class="ax" transform="translate(316.7,936) scale(1,1)">20 Jul 2020</text>
<text class="ax" transform="translate(380.7,936) scale(1,1)">29 Jul 2020</text>
<text class="ax" transform="translate(444.7,936) scale(1,1)">7 Aug 2020</text>
<text class="ax" transform="translate(508.7,936) scale(1,1)">17 Aug 2020</text>
<text class="ax" transform="translate(572.7,936) scale(1,1)">26 Aug 2020</text>
<text class="ax" transform="translate(636.7,936) scale(1,1)">4 Sep 2020</text>
<text class="ax" transform="translate(700.7,936) scale(1,1)">14 Sep 2020</text>
<text class="ax" transform="translate(764.7,936) scale(1,1)">23 Sep 2020</text>
<text class="ax" transform="translate(828.7,936) scale(1,1)">2 Oct 2020</text>
<text class="ax" transform="translate(892.7,936) scale(1,1)">12 Oct 2020</text>
<text class="ax" transform="translate(956.7,936) scale(1,1)">21 Oct 2020</text>
<text class="ax" transform="translate(1020.7,936) scale(1,1)">30 Oct 2020</text>
<text class="ax" transform="translate(1084.7,936) scale(1,1)">9 Nov 2020</text>
<text class="ax" transform="translate(1148.7,936) scale(1,1)">18 Nov 2020</text>
<text class="ax" transform="translate(1212.7,936) scale(1,1)">27 Nov 2020</text>
<text class="ax" transform="translate(1276.7,936) scale(1,1)">7 Dec 2020</text>
<text class="ax" transform="translate(1340.7,936) scale(1,1)">16 Dec 2020</text>
<text class="ax" transform="translate(1404.7,936) scale(1,1)">27 Dec 2020</text>
<text class="ax" x="12.5" y="34" textLength="65.5" lengthAdjust="spacingAndGlyphs">EURUSD-,Daily</text>
<text class="ax" x="85.5" y="34" textLength="140.2" lengthAdjust="spacingAndGlyphs">1.22188 1.22742 1.22187 1.22503</text>
<polygon points="0,33.5 3.5,28.5 7.5,33.5" fill="#000"/>
<text class="ax" x="1.5" y="590" textLength="147.5" lengthAdjust="spacingAndGlyphs">MACD(12,26,9) 0.006335 0.007354</text>
<text class="ax" x="1.5" y="762" textLength="67" lengthAdjust="spacingAndGlyphs">RSI(14) 67.1810</text>
<defs><linearGradient id="gb" x1="0" y1="0" x2="0" y2="1"><stop offset="0" stop-color="#5454ff"/><stop offset="0.45" stop-color="#2a2ad8"/><stop offset="1" stop-color="#0000a8"/></linearGradient><linearGradient id="gs" x1="0" y1="0" x2="0" y2="1"><stop offset="0" stop-color="#f4f4f4"/><stop offset="0.45" stop-color="#e6e6e6"/><stop offset="0.5" stop-color="#d4d4d4"/><stop offset="1" stop-color="#dcdcdc"/></linearGradient></defs>
<rect x="0" y="37" width="221" height="70" fill="#fff" class="c"/>
<path d="M0 42H52V66H109V106H0Z" fill="url(#gb)" class="c"/>
<path d="M219 42H167V66H111V106H219Z" fill="url(#gb)" class="c"/>
<rect x="0" y="42" width="52" height="1" fill="#2020d0" class="c"/><rect x="167" y="42" width="52" height="1" fill="#2020d0" class="c"/>
<rect x="4" y="65" width="44" height="1" fill="#1c1ca8" class="c"/><rect x="171" y="65" width="44" height="1" fill="#1c1ca8" class="c"/>
<rect x="4" y="66" width="44" height="1" fill="#7474ec" class="c"/><rect x="171" y="66" width="44" height="1" fill="#7474ec" class="c"/>
<rect x="54.5" y="42.5" width="110" height="21" fill="#fff" stroke="#b4b4b4" class="c"/>
<rect x="55.5" y="43.5" width="19" height="19" fill="url(#gs)" stroke="#c8c8c8" class="c"/>
<rect x="144.5" y="43.5" width="19" height="19" fill="url(#gs)" stroke="#c8c8c8" class="c"/>
<polygon points="62,51 68,51 65,54.5" fill="#4a5cb8"/><polygon points="151,54 157,54 154,50.5" fill="#4a5cb8"/>
<text x="140" y="56.9" font-size="12.6" text-anchor="end" fill="#000">1.00</text>
<text transform="translate(25.4,58) scale(0.9,1)" font-size="12" text-anchor="middle" fill="#f4f4ff">SELL</text>
<text transform="translate(192,58) scale(0.95,1)" font-size="12" text-anchor="middle" fill="#f4f4ff">BUY</text>
<text x="20.5" y="96" font-size="12" font-weight="bold" fill="#fff">1.22</text>
<text x="48.6" y="96.8" font-size="35" fill="#fff" textLength="34" lengthAdjust="spacingAndGlyphs">50</text>
<text x="87.8" y="80.5" font-size="11.5" font-weight="bold" fill="#fff">3</text>
<text x="130.5" y="96" font-size="12" font-weight="bold" fill="#fff">1.22</text>
<text x="159.6" y="96.8" font-size="35" fill="#fff" textLength="34" lengthAdjust="spacingAndGlyphs">52</text>
<text x="198.5" y="80.5" font-size="11.5" font-weight="bold" fill="#fff">6</text>
<g id="tb">
<defs><pattern id="chk" width="2" height="2" patternUnits="userSpaceOnUse"><rect width="2" height="2" fill="#f0f0f0"/><rect width="1" height="1" fill="#fff"/><rect x="1" y="1" width="1" height="1" fill="#fff"/></pattern><linearGradient id="gold" x1="0" y1="0" x2="1" y2="1"><stop offset="0" stop-color="#f6d860"/><stop offset="1" stop-color="#b87a10"/></linearGradient><radialGradient id="lens" cx="0.4" cy="0.35" r="0.7"><stop offset="0" stop-color="#ffffff"/><stop offset="1" stop-color="#bcd6f4"/></radialGradient><linearGradient id="grn" x1="0" y1="0" x2="1" y2="0"><stop offset="0" stop-color="#5ee05e"/><stop offset="1" stop-color="#18a818"/></linearGradient><linearGradient id="redb" x1="0" y1="0" x2="0" y2="1"><stop offset="0" stop-color="#e8502a"/><stop offset="1" stop-color="#c42a10"/></linearGradient><linearGradient id="gold2" x1="0" y1="0" x2="1" y2="1"><stop offset="0" stop-color="#cf981c"/><stop offset="0.5" stop-color="#fbe060"/><stop offset="1" stop-color="#d19a1e"/></linearGradient><linearGradient id="sig" x1="0" y1="0" x2="1" y2="0"><stop offset="0" stop-color="#ffffff"/><stop offset="0.5" stop-color="#f4f8f4"/><stop offset="1" stop-color="#5cae5c"/></linearGradient><linearGradient id="cld" x1="0" y1="0" x2="0" y2="1"><stop offset="0" stop-color="#ffffff"/><stop offset="1" stop-color="#c4d0e8"/></linearGradient></defs>
<rect x="0" y="0" width="1734" height="17" fill="#f0f0f0" class="c"/>
<rect x="0" y="17" width="1734" height="1" fill="#f4f4f4" class="c"/>
<rect x="0" y="18" width="1734" height="1" fill="#b4b4b4" class="c"/>
<rect x="0" y="19" width="1734" height="1" fill="#6e6e6e" class="c"/>
<rect x="-3.5" y="-3.5" width="14" height="16" fill="#fff" stroke="#2e78d2" stroke-width="1.4"/>
<path d="M0,1.5H9M0,4.5H9M0,7.5H9" stroke="#b9cff0" stroke-width="1"/><path d="M0,3H1M0,6H1M0,8.5H1" stroke="#e02020" stroke-width="1"/>
<path d="M24.5,-2h9v12h-9z" fill="#fdfdfd" stroke="#a0a0a0"/>
<circle cx="31.5" cy="5.5" r="5" fill="url(#lens)" stroke="#6f9fe0" stroke-width="1.2" fill-opacity="0.9"/>
<path d="M30,3v4" stroke="#9ab" stroke-width="2"/>
<path d="M35.3,9.6L40,14.3" stroke="#c8961c" stroke-width="2.6" stroke-linecap="round"/>
<rect x="48" y="0" width="1" height="16" fill="#a0a0a0" class="c"/>
<path d="M58.5,-2.5h7.5l3,3v10h-10.5z" fill="#fff" stroke="#8a8a8a" stroke-width="1"/><path d="M60.5,2.0h5.5M60.5,5.0h5.5" stroke="#9a9a9a" stroke-width="1"/>
<path d="M66.4,4.2h3.2v4.2h4.2v3.2h-4.2v4.2h-3.2v-4.2h-4.2v-3.2h4.2z" fill="url(#grn)" stroke="#0c8c0c" stroke-width="0.7"/>
<text x="77" y="8.6" font-size="12" fill="#000" stroke="#000" stroke-width="0.25" font-family="Liberation Sans, Noto Sans CJK SC, sans-serif">新订单</text>
<path d="M130.9,-1L141,6.4L133,13.8L125,8.2Z" fill="#b8801a" stroke="#9a6610" stroke-width="0.7"/>
<path d="M130.9,-1.6L140.2,4.8L132.3,10.9L125.3,6.5Z" fill="url(#gold2)"/>
<path d="M133,13L140.6,6.6M132.2,12.2L139.8,5.9" stroke="#e8c870" stroke-width="0.5"/>
<rect x="155.5" y="-2" width="10" height="9.5" fill="#3a8ee6" stroke="#2a6fc0" stroke-width="0.8"/>
<path d="M158,1.5h5.5M158,4h5.5" stroke="#cfe6ff" stroke-width="1"/>
<g stroke="#5272b4" stroke-width="2" fill="#5272b4"><circle cx="156.6" cy="10.6" r="2.3"/><circle cx="161" cy="9.3" r="3"/><circle cx="165.8" cy="10.4" r="2.5"/><rect x="156.6" y="10.5" width="9.2" height="2.4"/></g>
<g fill="url(#cld)"><circle cx="156.6" cy="10.6" r="2.3"/><circle cx="161" cy="9.3" r="3"/><circle cx="165.8" cy="10.4" r="2.5"/><rect x="156.6" y="10.5" width="9.2" height="2.4"/></g>
<circle cx="188.8" cy="5.8" r="7.6" fill="url(#sig)" fill-opacity="0.9"/>
<circle cx="188.8" cy="5.8" r="7.6" fill="none" stroke="#7a9ee0" stroke-width="1" stroke-opacity="0.8"/>
<circle cx="188.8" cy="5.8" r="5" fill="none" stroke="#5a86d8" stroke-width="1.1" stroke-opacity="0.85"/>
<path d="M188.8,5.8V13.4A7.6,7.6 0 0 0 196.4,5.8" fill="#58b058" fill-opacity="0.55"/>
<circle cx="188.8" cy="5.8" r="2" fill="#2a5ad8"/><path d="M189.3,6.2V13.4" stroke="#22a022" stroke-width="1.3"/>
<path d="M208.5,3.5c0,-3 3,-5 8.5,-5s7,2 7,4.5c-3,2.4 -12,2.6 -15.5,0.5z" fill="#3e9fe0" stroke="#2878b8" stroke-width="0.7"/>
<path d="M209.5,5c4,1.6 9,1.4 13.5,-0.6l-1,3l-5,6h-2.5z" fill="#f4d64a" stroke="#d0a820" stroke-width="0.7"/>
<circle cx="220.8" cy="9.6" r="4.5" fill="#e02814"/><rect x="219" y="7.8" width="3.6" height="3.6" fill="#fff"/>
<text x="229.6" y="8.6" font-size="11.7" textLength="46.2" fill="#000" stroke="#000" stroke-width="0.25" font-family="Liberation Sans, Noto Sans CJK SC, sans-serif">自动交易</text>
<rect x="285" y="0" width="1" height="18" fill="#a0a0a0" class="c"/>
<rect x="288" y="0" width="3" height="1" fill="#a8a8a8" class="c"/><rect x="288" y="2" width="3" height="1" fill="#a8a8a8" class="c"/><rect x="288" y="4" width="3" height="1" fill="#a8a8a8" class="c"/><rect x="288" y="6" width="3" height="1" fill="#a8a8a8" class="c"/><rect x="288" y="8" width="3" height="1" fill="#a8a8a8" class="c"/><rect x="288" y="10" width="3" height="1" fill="#a8a8a8" class="c"/><rect x="288" y="12" width="3" height="1" fill="#a8a8a8" class="c"/><rect x="288" y="14" width="3" height="1" fill="#a8a8a8" class="c"/>
<path d="M302.5,0V13.5M300,11.5H311.5" stroke="#555" stroke-width="1.2" fill="none"/><polygon points="314,11.5 310.6,9.3 310.6,13.7" fill="#555"/>
<path d="M308.5,1.5V9.5M306,8.5h2.5M308.5,2.5h2.5" stroke="#22a022" stroke-width="1.4" fill="none"/>
<rect x="322" y="0" width="1" height="16" fill="#a0a0a0" class="c"/>
<rect x="323" y="0" width="24" height="16" fill="url(#chk)" class="c"/>
<path d="M330.5,0V13.5M328,11.5H339.5" stroke="#555" stroke-width="1.2" fill="none"/><polygon points="342,11.5 338.6,9.3 338.6,13.7" fill="#555"/>
<rect x="334.5" y="-1" width="4" height="8.5" fill="#3fd03f" stroke="#1a8a1a" stroke-width="1"/><path d="M336.5,7.5V10" stroke="#1a8a1a" stroke-width="1.2"/>
<path d="M358.5,0V13.5M356,11.5H367.5" stroke="#555" stroke-width="1.2" fill="none"/><polygon points="370,11.5 366.6,9.3 366.6,13.7" fill="#555"/>
<path d="M357,9C359,6 361,3 363,3.2S367,7 369.5,7.5" fill="none" stroke="#2a9a2a" stroke-width="1.3"/>
<rect x="379" y="0" width="1" height="16" fill="#a0a0a0" class="c"/>
<path d="M398,8L403,13" stroke="#d2a018" stroke-width="3" stroke-linecap="butt"/><path d="M398,8L403,13" stroke="#f0d060" stroke-width="1" /><circle cx="394" cy="3.8" r="5.4" fill="url(#lens)" stroke="#3c80d4" stroke-width="1.3"/><path d="M391,3.8h6" stroke="#3c80d4" stroke-width="1.6"/><path d="M394,0.8v6" stroke="#3c80d4" stroke-width="1.6"/>
<path d="M426,8L431,13" stroke="#d2a018" stroke-width="3" stroke-linecap="butt"/><path d="M426,8L431,13" stroke="#f0d060" stroke-width="1" /><circle cx="422" cy="3.8" r="5.4" fill="url(#lens)" stroke="#3c80d4" stroke-width="1.3"/><path d="M419,3.8h6" stroke="#3c80d4" stroke-width="1.6"/>
<rect x="444" y="-1" width="8" height="7.5" fill="#5aa828"/><rect x="452" y="-1" width="8" height="7.5" fill="#2c6ee0"/><rect x="444" y="6.5" width="8" height="7" fill="#2c6ee0"/><rect x="452" y="6.5" width="8" height="7" fill="#5aa828"/>
<path d="M445.5,2h5v2.5h-5zM453.5,2h5v2.5h-5zM445.5,9.5h5v2.5h-5zM453.5,9.5h5v2.5h-5z" fill="none" stroke="#fff" stroke-width="1"/>
<rect x="469" y="0" width="1" height="16" fill="#a0a0a0" class="c"/>
<rect x="474" y="0" width="1" height="16" fill="#a0a0a0" class="c"/>
<rect x="475" y="0" width="24" height="16" fill="url(#chk)" class="c"/>
<path d="M482.5,0V13.5M480,11.5H491.5" stroke="#555" stroke-width="1.2" fill="none"/><polygon points="494,11.5 490.6,9.3 490.6,13.7" fill="#555"/>
<polygon points="487.5,2 487.5,9 491.5,5.5" fill="#8ee08e" stroke="#1c9a1c" stroke-width="1.1"/>
<rect x="502" y="0" width="1" height="16" fill="#a0a0a0" class="c"/>
<rect x="503" y="0" width="24" height="16" fill="url(#chk)" class="c"/>
<path d="M510.5,0V13.5M508,11.5H519.5" stroke="#555" stroke-width="1.2" fill="none"/><polygon points="522,11.5 518.6,9.3 518.6,13.7" fill="#555"/>
<path d="M516.5,0V9.5" stroke="#2a78c8" stroke-width="1.2"/><path d="M517.5,5.5h4" stroke="#e05a10" stroke-width="1.2"/><polygon points="517.3,5.5 520,3.3 520,7.7" fill="#e05a10"/>
<rect x="531" y="0" width="1" height="16" fill="#a0a0a0" class="c"/>
<path d="M541.5,-2.5h7.5l3,3v10h-10.5z" fill="#fff" stroke="#8a8a8a" stroke-width="1"/><path d="M543.5,2.0h5.5M543.5,5.0h5.5" stroke="#9a9a9a" stroke-width="1"/>
<path d="M550.4,4.2h3.2v4.2h4.2v3.2h-4.2v4.2h-3.2v-4.2h-4.2v-3.2h4.2z" fill="url(#grn)" stroke="#0c8c0c" stroke-width="0.7"/>
<polygon points="562.7,5 568.3,5 565.5,8" fill="#000"/>
<circle cx="587" cy="5.5" r="6.9" fill="#fff" stroke="#1f7fd8" stroke-width="2.0"/><path d="M586.5,1.5V6H590" stroke="#333" stroke-width="1.1" fill="none"/>
<circle cx="587" cy="5.5" r="8" fill="none" stroke="#0f5fb0" stroke-width="0.6"/>
<polygon points="601.7,5 607.3,5 604.5,8" fill="#000"/>
<rect x="618.5" y="-1.5" width="15" height="14" fill="#fff" stroke="#3c80d8" stroke-width="1.2"/><rect x="619" y="-1" width="14" height="1.8" fill="#7fb0ea"/>
<path d="M619,6.5h14" stroke="#3c80d8" stroke-width="1"/>
<path d="M620.5,5l2.5,-1l2.5,-1l2,1l2,-1l2,-0.5" fill="none" stroke="#c02010" stroke-width="1.3"/>
<path d="M620.5,10.5l2.5,-1l2,1l3,-2.5l2,1.5l1.5,1" fill="none" stroke="#18a018" stroke-width="1.3"/>
<polygon points="640.7,5 646.3,5 643.5,8" fill="#000"/>
<rect x="652" y="0" width="1" height="18" fill="#a0a0a0" class="c"/>
<rect x="656" y="0" width="3" height="1" fill="#a8a8a8" class="c"/><rect x="656" y="2" width="3" height="1" fill="#a8a8a8" class="c"/><rect x="656" y="4" width="3" height="1" fill="#a8a8a8" class="c"/><rect x="656" y="6" width="3" height="1" fill="#a8a8a8" class="c"/><rect x="656" y="8" width="3" height="1" fill="#a8a8a8" class="c"/><rect x="656" y="10" width="3" height="1" fill="#a8a8a8" class="c"/><rect x="656" y="12" width="3" height="1" fill="#a8a8a8" class="c"/><rect x="656" y="14" width="3" height="1" fill="#a8a8a8" class="c"/>
<rect x="662" y="0" width="1" height="16" fill="#a0a0a0" class="c"/>
<rect x="663" y="0" width="24" height="16" fill="url(#chk)" class="c"/>
<path d="M670.5,-1V10.5l2.8,-2.6l2,4.6l1.8,-0.8l-2,-4.4h3.6z" fill="#505050"/>
<path d="M702.5,-1V5M702.5,8V14M695,6.5H701M704,6.5H710M702,6.5h1" stroke="#555" stroke-width="1.1" fill="none"/>
<rect x="719" y="0" width="1" height="16" fill="#a0a0a0" class="c"/>
<rect x="736" y="0" width="1" height="13" fill="#444" class="c"/>
<rect x="759" y="6" width="12" height="1" fill="#444" class="c"/>
<path d="M786.5,13L799,1" stroke="#666" stroke-width="1"/>
<path d="M813,8L824,-2M816,11L828,0M818,13L829,3" stroke="#555" stroke-width="0.9" fill="none"/><path d="M815,5l3,7M818,2l3,8M821,0l3,7" stroke="#555" stroke-width="0.8" stroke-dasharray="1 1"/>
<text x="823.5" y="15" font-size="6.5" font-weight="bold" fill="#444">E</text>
<path d="M842,2.5h13M842,6.5h13M842,10.5h9" stroke="#555" stroke-width="1" stroke-dasharray="1 1"/>
<text x="851.5" y="15" font-size="6.5" font-weight="bold" fill="#444">F</text>
<text x="872.3" y="11" font-size="12" fill="#505050" stroke="#505050" stroke-width="0.5">A</text>
<rect x="899.5" y="-0.5" width="11" height="13" fill="none" stroke="#555" stroke-dasharray="1 1" class="c"/>
<text x="900.8" y="10.8" font-size="11" fill="#505050" stroke="#505050" stroke-width="0.5">T</text>
<polygon points="926.5,3.5 930,0 933.5,3.5 930,4.6" fill="#555"/><polygon points="933,9.5 936.5,12.5 940,9.5 936.5,8" fill="#555"/><path d="M928.5,7l2,2l4,-5" fill="none" stroke="#555" stroke-width="1.2"/>
<polygon points="946.7,5 952.3,5 949.5,8" fill="#000"/>
<rect x="958" y="0" width="1" height="18" fill="#a0a0a0" class="c"/>
<rect x="962" y="0" width="3" height="1" fill="#a8a8a8" class="c"/><rect x="962" y="2" width="3" height="1" fill="#a8a8a8" class="c"/><rect x="962" y="4" width="3" height="1" fill="#a8a8a8" class="c"/><rect x="962" y="6" width="3" height="1" fill="#a8a8a8" class="c"/><rect x="962" y="8" width="3" height="1" fill="#a8a8a8" class="c"/><rect x="962" y="10" width="3" height="1" fill="#a8a8a8" class="c"/><rect x="962" y="12" width="3" height="1" fill="#a8a8a8" class="c"/><rect x="962" y="14" width="3" height="1" fill="#a8a8a8" class="c"/>
<text class="ax" x="973.5" y="10" style="fill:#505050">M1</text>
<text class="ax" x="1001.5" y="10" style="fill:#505050">M5</text>
<text class="ax" x="1027.5" y="10" style="fill:#505050">M15</text>
<text class="ax" x="1055" y="10" style="fill:#505050">M30</text>
<text class="ax" x="1086.8" y="10" style="fill:#505050">H1</text>
<text class="ax" x="1113.5" y="10" style="fill:#505050">H4</text>
<rect x="1136" y="0" width="1" height="16" fill="#a0a0a0" class="c"/>
<rect x="1137" y="0" width="24" height="16" fill="url(#chk)" class="c"/>
<text class="ax" x="1142.5" y="10" style="fill:#505050">D1</text>
<text class="ax" x="1170" y="10" style="fill:#505050">W1</text>
<text class="ax" x="1196.5" y="10" style="fill:#505050">MN</text>
<rect x="1219" y="0" width="1" height="18" fill="#a0a0a0" class="c"/>
<circle cx="1689.5" cy="3.2" r="3.8" fill="#fff" stroke="#2e62d0" stroke-width="1.4"/><path d="M1687,6.2L1682.3,10.8" stroke="#2458cc" stroke-width="2.2" stroke-linecap="round"/>
<path d="M1707,8.5a5.5,4.6 0 1 1 5,4.4l-2.5,2l0.3,-2.4a5,4.4 0 0 1 -2.8,-4z" fill="#e4e6ee" stroke="#c4c6cc" stroke-width="0.7"/>
<circle cx="1720.2" cy="4" r="8" fill="url(#redb)"/>
<text x="1717" y="9" font-size="12" fill="#fff" font-family="Liberation Serif, serif" font-weight="bold">1</text>
</g>
</svg></body></html>
